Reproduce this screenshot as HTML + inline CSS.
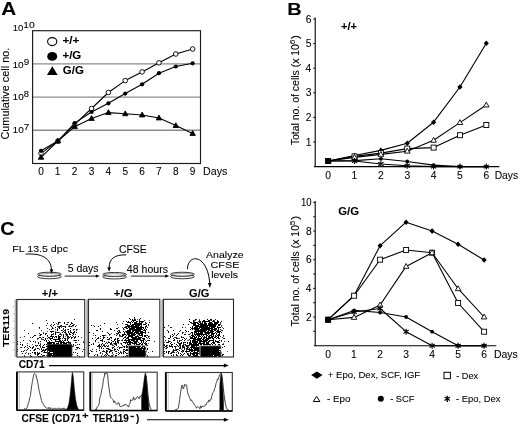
<!DOCTYPE html>
<html><head><meta charset="utf-8"><style>
html,body{margin:0;padding:0;background:#fff;overflow:hidden;}
svg{display:block;filter:blur(0.35px);}
text{font-family:"Liberation Sans",sans-serif;stroke:#000;stroke-width:0.08px;}
</style></head><body>
<svg width="520" height="426" viewBox="0 0 520 426">
<rect width="520" height="426" fill="#fff"/>
<text x="1.28" y="14.60" font-size="19.00" font-weight="bold" textLength="14.99" lengthAdjust="spacingAndGlyphs" xml:space="preserve" fill="#000">A</text>
<line x1="32.60" y1="63.95" x2="200.50" y2="63.95" stroke="#8c8c8c" stroke-width="1.3"/>
<line x1="32.60" y1="97.10" x2="200.50" y2="97.10" stroke="#8c8c8c" stroke-width="1.3"/>
<line x1="32.60" y1="130.25" x2="200.50" y2="130.25" stroke="#8c8c8c" stroke-width="1.3"/>
<rect x="32.6" y="30.7" width="167.9" height="132.8" fill="none" stroke="#1a1a1a" stroke-width="1.15"/>
<text x="12.84" y="30.90" font-size="9.90" textLength="10.56" lengthAdjust="spacingAndGlyphs" xml:space="preserve" fill="#000">10</text>
<text x="23.38" y="27.60" font-size="8.30" textLength="11.46" lengthAdjust="spacingAndGlyphs" xml:space="preserve" fill="#000">10</text>
<text x="12.49" y="68.20" font-size="9.90" textLength="11.24" lengthAdjust="spacingAndGlyphs" xml:space="preserve" fill="#000">10</text>
<text x="23.80" y="64.80" font-size="8.30" textLength="5.56" lengthAdjust="spacingAndGlyphs" xml:space="preserve" fill="#000">9</text>
<text x="12.60" y="100.20" font-size="9.90" textLength="11.12" lengthAdjust="spacingAndGlyphs" xml:space="preserve" fill="#000">10</text>
<text x="23.83" y="97.30" font-size="8.30" textLength="5.21" lengthAdjust="spacingAndGlyphs" xml:space="preserve" fill="#000">8</text>
<text x="12.60" y="133.00" font-size="9.90" textLength="11.12" lengthAdjust="spacingAndGlyphs" xml:space="preserve" fill="#000">10</text>
<text x="23.70" y="129.60" font-size="8.30" textLength="5.56" lengthAdjust="spacingAndGlyphs" xml:space="preserve" fill="#000">7</text>
<text transform="translate(9.40,139.54) rotate(-90)" font-size="10.50" textLength="91.80" lengthAdjust="spacingAndGlyphs" xml:space="preserve" fill="#000">Cumulative cell no.</text>
<text x="38.17" y="174.70" font-size="10.10" textLength="5.62" lengthAdjust="spacingAndGlyphs" xml:space="preserve" fill="#000">0</text>
<text x="54.87" y="174.70" font-size="10.10" textLength="5.62" lengthAdjust="spacingAndGlyphs" xml:space="preserve" fill="#000">1</text>
<text x="71.87" y="174.70" font-size="10.10" textLength="5.62" lengthAdjust="spacingAndGlyphs" xml:space="preserve" fill="#000">2</text>
<text x="88.77" y="174.70" font-size="10.10" textLength="5.62" lengthAdjust="spacingAndGlyphs" xml:space="preserve" fill="#000">3</text>
<text x="105.62" y="174.70" font-size="10.10" textLength="5.62" lengthAdjust="spacingAndGlyphs" xml:space="preserve" fill="#000">4</text>
<text x="122.47" y="174.70" font-size="10.10" textLength="5.62" lengthAdjust="spacingAndGlyphs" xml:space="preserve" fill="#000">5</text>
<text x="139.27" y="174.70" font-size="10.10" textLength="5.62" lengthAdjust="spacingAndGlyphs" xml:space="preserve" fill="#000">6</text>
<text x="156.12" y="174.70" font-size="10.10" textLength="5.62" lengthAdjust="spacingAndGlyphs" xml:space="preserve" fill="#000">7</text>
<text x="173.02" y="174.70" font-size="10.10" textLength="5.62" lengthAdjust="spacingAndGlyphs" xml:space="preserve" fill="#000">8</text>
<text x="189.82" y="174.70" font-size="10.10" textLength="5.62" lengthAdjust="spacingAndGlyphs" xml:space="preserve" fill="#000">9</text>
<text x="203.05" y="174.70" font-size="10.60" textLength="24.26" lengthAdjust="spacingAndGlyphs" xml:space="preserve" fill="#000">Days</text>
<polyline points="41.00,153.40 57.85,141.10 74.70,124.40 91.55,108.50 108.40,92.50 125.25,80.60 142.10,71.90 158.95,62.80 175.80,54.00 192.65,49.00" fill="none" stroke="#000" stroke-width="1.1" stroke-linejoin="round"/>
<polyline points="41.00,150.80 57.85,141.10 74.70,123.10 91.55,112.00 108.40,103.30 125.25,93.60 142.10,84.30 158.95,73.20 175.80,66.50 192.65,63.30" fill="none" stroke="#000" stroke-width="1.1" stroke-linejoin="round"/>
<polyline points="41.00,157.30 57.85,141.10 74.70,126.70 91.55,118.50 108.40,112.60 125.25,113.80 142.10,115.00 158.95,118.00 175.80,125.60 192.65,133.50" fill="none" stroke="#000" stroke-width="1.1" stroke-linejoin="round"/>
<circle cx="41.00" cy="153.4" r="2.3" fill="#fff" stroke="#000" stroke-width="0.9"/>
<circle cx="57.85" cy="141.1" r="2.3" fill="#fff" stroke="#000" stroke-width="0.9"/>
<circle cx="74.70" cy="124.4" r="2.3" fill="#fff" stroke="#000" stroke-width="0.9"/>
<circle cx="91.55" cy="108.5" r="2.3" fill="#fff" stroke="#000" stroke-width="0.9"/>
<circle cx="108.40" cy="92.5" r="2.3" fill="#fff" stroke="#000" stroke-width="0.9"/>
<circle cx="125.25" cy="80.6" r="2.3" fill="#fff" stroke="#000" stroke-width="0.9"/>
<circle cx="142.10" cy="71.9" r="2.3" fill="#fff" stroke="#000" stroke-width="0.9"/>
<circle cx="158.95" cy="62.8" r="2.3" fill="#fff" stroke="#000" stroke-width="0.9"/>
<circle cx="175.80" cy="54.0" r="2.3" fill="#fff" stroke="#000" stroke-width="0.9"/>
<circle cx="192.65" cy="49.0" r="2.3" fill="#fff" stroke="#000" stroke-width="0.9"/>
<circle cx="41.00" cy="150.80" r="2.1" fill="#000"/>
<circle cx="57.85" cy="141.10" r="2.1" fill="#000"/>
<circle cx="74.70" cy="123.10" r="2.1" fill="#000"/>
<circle cx="91.55" cy="112.00" r="2.1" fill="#000"/>
<circle cx="108.40" cy="103.30" r="2.1" fill="#000"/>
<circle cx="125.25" cy="93.60" r="2.1" fill="#000"/>
<circle cx="142.10" cy="84.30" r="2.1" fill="#000"/>
<circle cx="158.95" cy="73.20" r="2.1" fill="#000"/>
<circle cx="175.80" cy="66.50" r="2.1" fill="#000"/>
<circle cx="192.65" cy="63.30" r="2.1" fill="#000"/>
<polygon points="41.00,154.42 38.30,159.22 43.70,159.22" fill="#000" stroke="#000" stroke-width="0.9" stroke-linejoin="miter"/>
<polygon points="57.85,138.22 55.15,143.02 60.55,143.02" fill="#000" stroke="#000" stroke-width="0.9" stroke-linejoin="miter"/>
<polygon points="74.70,123.82 72.00,128.62 77.40,128.62" fill="#000" stroke="#000" stroke-width="0.9" stroke-linejoin="miter"/>
<polygon points="91.55,115.62 88.85,120.42 94.25,120.42" fill="#000" stroke="#000" stroke-width="0.9" stroke-linejoin="miter"/>
<polygon points="108.40,109.72 105.70,114.52 111.10,114.52" fill="#000" stroke="#000" stroke-width="0.9" stroke-linejoin="miter"/>
<polygon points="125.25,110.92 122.55,115.72 127.95,115.72" fill="#000" stroke="#000" stroke-width="0.9" stroke-linejoin="miter"/>
<polygon points="142.10,112.12 139.40,116.92 144.80,116.92" fill="#000" stroke="#000" stroke-width="0.9" stroke-linejoin="miter"/>
<polygon points="158.95,115.12 156.25,119.92 161.65,119.92" fill="#000" stroke="#000" stroke-width="0.9" stroke-linejoin="miter"/>
<polygon points="175.80,122.72 173.10,127.52 178.50,127.52" fill="#000" stroke="#000" stroke-width="0.9" stroke-linejoin="miter"/>
<polygon points="192.65,130.62 189.95,135.42 195.35,135.42" fill="#000" stroke="#000" stroke-width="0.9" stroke-linejoin="miter"/>
<ellipse cx="52.2" cy="41.6" rx="4.6" ry="4.0" fill="#fff" stroke="#000" stroke-width="1.1"/>
<ellipse cx="52.2" cy="56.4" rx="5.0" ry="4.4" fill="#000"/>
<polygon points="52.3,66.2 46.9,75.1 57.7,75.1" fill="#000"/>
<text x="62.53" y="44.20" font-size="11.30" font-weight="bold" textLength="16.89" lengthAdjust="spacingAndGlyphs" xml:space="preserve" fill="#000">+/+</text>
<text x="62.44" y="59.40" font-size="11.30" font-weight="bold" textLength="18.85" lengthAdjust="spacingAndGlyphs" xml:space="preserve" fill="#000">+/G</text>
<text x="62.84" y="74.40" font-size="11.30" font-weight="bold" textLength="20.99" lengthAdjust="spacingAndGlyphs" xml:space="preserve" fill="#000">G/G</text>
<text x="287.30" y="15.40" font-size="17.30" font-weight="bold" textLength="14.44" lengthAdjust="spacingAndGlyphs" xml:space="preserve" fill="#000">B</text>
<line x1="315.20" y1="17.60" x2="315.20" y2="166.60" stroke="#000" stroke-width="1.1"/>
<line x1="313.90" y1="166.60" x2="499.30" y2="166.60" stroke="#000" stroke-width="1.1"/>
<line x1="313.20" y1="142.00" x2="315.20" y2="142.00" stroke="#000" stroke-width="0.9"/>
<text x="305.75" y="145.60" font-size="10.30" textLength="5.73" lengthAdjust="spacingAndGlyphs" xml:space="preserve" fill="#000">1</text>
<line x1="313.20" y1="117.40" x2="315.20" y2="117.40" stroke="#000" stroke-width="0.9"/>
<text x="305.75" y="121.00" font-size="10.30" textLength="5.73" lengthAdjust="spacingAndGlyphs" xml:space="preserve" fill="#000">2</text>
<line x1="313.20" y1="92.80" x2="315.20" y2="92.80" stroke="#000" stroke-width="0.9"/>
<text x="305.75" y="96.40" font-size="10.30" textLength="5.73" lengthAdjust="spacingAndGlyphs" xml:space="preserve" fill="#000">3</text>
<line x1="313.20" y1="68.20" x2="315.20" y2="68.20" stroke="#000" stroke-width="0.9"/>
<text x="305.54" y="71.80" font-size="10.30" textLength="5.73" lengthAdjust="spacingAndGlyphs" xml:space="preserve" fill="#000">4</text>
<line x1="313.20" y1="43.60" x2="315.20" y2="43.60" stroke="#000" stroke-width="0.9"/>
<text x="305.75" y="47.20" font-size="10.30" textLength="5.73" lengthAdjust="spacingAndGlyphs" xml:space="preserve" fill="#000">5</text>
<line x1="313.20" y1="19.00" x2="315.20" y2="19.00" stroke="#000" stroke-width="0.9"/>
<text x="305.75" y="22.60" font-size="10.30" textLength="5.73" lengthAdjust="spacingAndGlyphs" xml:space="preserve" fill="#000">6</text>
<text x="325.32" y="178.70" font-size="10.30" textLength="5.73" lengthAdjust="spacingAndGlyphs" xml:space="preserve" fill="#000">0</text>
<text x="351.51" y="178.70" font-size="10.30" textLength="5.73" lengthAdjust="spacingAndGlyphs" xml:space="preserve" fill="#000">1</text>
<text x="378.02" y="178.70" font-size="10.30" textLength="5.73" lengthAdjust="spacingAndGlyphs" xml:space="preserve" fill="#000">2</text>
<text x="404.42" y="178.70" font-size="10.30" textLength="5.73" lengthAdjust="spacingAndGlyphs" xml:space="preserve" fill="#000">3</text>
<text x="430.77" y="178.70" font-size="10.30" textLength="5.73" lengthAdjust="spacingAndGlyphs" xml:space="preserve" fill="#000">4</text>
<text x="457.12" y="178.70" font-size="10.30" textLength="5.73" lengthAdjust="spacingAndGlyphs" xml:space="preserve" fill="#000">5</text>
<text x="483.42" y="178.70" font-size="10.30" textLength="5.73" lengthAdjust="spacingAndGlyphs" xml:space="preserve" fill="#000">6</text>
<text x="494.67" y="178.70" font-size="10.40" textLength="23.52" lengthAdjust="spacingAndGlyphs" xml:space="preserve" fill="#000">Days</text>
<text x="341.06" y="29.70" font-size="10.80" font-weight="bold" textLength="16.04" lengthAdjust="spacingAndGlyphs" xml:space="preserve" fill="#000">+/+</text>
<polyline points="328.20,161.00 354.55,161.00 380.90,164.00 407.25,165.80 433.60,166.60 459.95,166.60 486.30,166.60" fill="none" stroke="#000" stroke-width="1.1" stroke-linejoin="round"/>
<polyline points="328.20,161.00 354.55,160.60 380.90,158.80 407.25,161.50 433.60,165.10 459.95,166.60 486.30,166.60" fill="none" stroke="#000" stroke-width="1.1" stroke-linejoin="round"/>
<polyline points="328.20,161.00 354.55,157.40 380.90,154.40 407.25,151.20 433.60,140.30 459.95,122.60 486.30,105.00" fill="none" stroke="#000" stroke-width="1.1" stroke-linejoin="round"/>
<polyline points="328.20,161.00 354.55,156.40 380.90,153.10 407.25,148.60 433.60,147.60 459.95,135.20 486.30,125.00" fill="none" stroke="#000" stroke-width="1.1" stroke-linejoin="round"/>
<polyline points="328.20,161.00 354.55,155.50 380.90,150.40 407.25,143.30 433.60,122.20 459.95,87.00 486.30,43.30" fill="none" stroke="#000" stroke-width="1.1" stroke-linejoin="round"/>
<polygon points="328.20,158.20 330.80,161.00 328.20,163.80 325.60,161.00" fill="#000"/>
<rect x="325.70" y="158.50" width="5.0" height="5.0" fill="#fff" stroke="#000" stroke-width="0.9"/>
<polygon points="328.20,158.09 325.40,162.94 331.00,162.94" fill="#fff" stroke="#000" stroke-width="0.9" stroke-linejoin="miter"/>
<circle cx="328.20" cy="161.00" r="1.9" fill="#000"/>
<path d="M328.20,158.00L328.20,164.00M325.58,159.28L330.82,162.72M325.58,162.72L330.82,159.28" stroke="#000" stroke-width="1.1"/>
<polygon points="354.55,152.70 357.15,155.50 354.55,158.30 351.95,155.50" fill="#000"/>
<rect x="352.05" y="153.90" width="5.0" height="5.0" fill="#fff" stroke="#000" stroke-width="0.9"/>
<polygon points="354.55,154.49 351.75,159.34 357.35,159.34" fill="#fff" stroke="#000" stroke-width="0.9" stroke-linejoin="miter"/>
<circle cx="354.55" cy="160.60" r="1.9" fill="#000"/>
<path d="M354.55,158.00L354.55,164.00M351.93,159.28L357.17,162.72M351.93,162.72L357.17,159.28" stroke="#000" stroke-width="1.1"/>
<polygon points="380.90,147.60 383.50,150.40 380.90,153.20 378.30,150.40" fill="#000"/>
<rect x="378.40" y="150.60" width="5.0" height="5.0" fill="#fff" stroke="#000" stroke-width="0.9"/>
<polygon points="380.90,151.49 378.10,156.34 383.70,156.34" fill="#fff" stroke="#000" stroke-width="0.9" stroke-linejoin="miter"/>
<circle cx="380.90" cy="158.80" r="1.9" fill="#000"/>
<path d="M380.90,161.00L380.90,167.00M378.28,162.28L383.52,165.72M378.28,165.72L383.52,162.28" stroke="#000" stroke-width="1.1"/>
<polygon points="407.25,140.50 409.85,143.30 407.25,146.10 404.65,143.30" fill="#000"/>
<rect x="404.75" y="146.10" width="5.0" height="5.0" fill="#fff" stroke="#000" stroke-width="0.9"/>
<polygon points="407.25,148.29 404.45,153.14 410.05,153.14" fill="#fff" stroke="#000" stroke-width="0.9" stroke-linejoin="miter"/>
<circle cx="407.25" cy="161.50" r="1.9" fill="#000"/>
<path d="M407.25,162.80L407.25,168.80M404.63,164.08L409.87,167.52M404.63,167.52L409.87,164.08" stroke="#000" stroke-width="1.1"/>
<polygon points="433.60,119.40 436.20,122.20 433.60,125.00 431.00,122.20" fill="#000"/>
<rect x="431.10" y="145.10" width="5.0" height="5.0" fill="#fff" stroke="#000" stroke-width="0.9"/>
<polygon points="433.60,137.39 430.80,142.24 436.40,142.24" fill="#fff" stroke="#000" stroke-width="0.9" stroke-linejoin="miter"/>
<circle cx="433.60" cy="165.10" r="1.9" fill="#000"/>
<path d="M433.60,163.60L433.60,169.60M430.98,164.88L436.22,168.32M430.98,168.32L436.22,164.88" stroke="#000" stroke-width="1.1"/>
<polygon points="459.95,84.20 462.55,87.00 459.95,89.80 457.35,87.00" fill="#000"/>
<rect x="457.45" y="132.70" width="5.0" height="5.0" fill="#fff" stroke="#000" stroke-width="0.9"/>
<polygon points="459.95,119.69 457.15,124.54 462.75,124.54" fill="#fff" stroke="#000" stroke-width="0.9" stroke-linejoin="miter"/>
<circle cx="459.95" cy="166.60" r="1.9" fill="#000"/>
<path d="M459.95,163.60L459.95,169.60M457.33,164.88L462.57,168.32M457.33,168.32L462.57,164.88" stroke="#000" stroke-width="1.1"/>
<polygon points="486.30,40.50 488.90,43.30 486.30,46.10 483.70,43.30" fill="#000"/>
<rect x="483.80" y="122.50" width="5.0" height="5.0" fill="#fff" stroke="#000" stroke-width="0.9"/>
<polygon points="486.30,102.09 483.50,106.94 489.10,106.94" fill="#fff" stroke="#000" stroke-width="0.9" stroke-linejoin="miter"/>
<circle cx="486.30" cy="166.60" r="1.9" fill="#000"/>
<path d="M486.30,163.60L486.30,169.60M483.68,164.88L488.92,168.32M483.68,168.32L488.92,164.88" stroke="#000" stroke-width="1.1"/>
<rect x="325.40" y="158.20" width="5.6" height="5.6" fill="#000"/>
<line x1="315.20" y1="201.00" x2="315.20" y2="345.70" stroke="#000" stroke-width="1.1"/>
<line x1="313.90" y1="345.70" x2="496.30" y2="345.70" stroke="#000" stroke-width="1.1"/>
<line x1="313.20" y1="331.37" x2="315.20" y2="331.37" stroke="#000" stroke-width="0.9"/>
<line x1="313.20" y1="317.04" x2="315.20" y2="317.04" stroke="#000" stroke-width="0.9"/>
<line x1="313.20" y1="302.71" x2="315.20" y2="302.71" stroke="#000" stroke-width="0.9"/>
<line x1="313.20" y1="288.38" x2="315.20" y2="288.38" stroke="#000" stroke-width="0.9"/>
<line x1="313.20" y1="274.05" x2="315.20" y2="274.05" stroke="#000" stroke-width="0.9"/>
<line x1="313.20" y1="259.72" x2="315.20" y2="259.72" stroke="#000" stroke-width="0.9"/>
<line x1="313.20" y1="245.39" x2="315.20" y2="245.39" stroke="#000" stroke-width="0.9"/>
<line x1="313.20" y1="231.06" x2="315.20" y2="231.06" stroke="#000" stroke-width="0.9"/>
<line x1="313.20" y1="216.73" x2="315.20" y2="216.73" stroke="#000" stroke-width="0.9"/>
<line x1="313.20" y1="202.40" x2="315.20" y2="202.40" stroke="#000" stroke-width="0.9"/>
<text x="300.93" y="205.50" font-size="10.30" textLength="10.67" lengthAdjust="spacingAndGlyphs" xml:space="preserve" fill="#000">10</text>
<text x="305.95" y="320.64" font-size="10.30" textLength="5.73" lengthAdjust="spacingAndGlyphs" xml:space="preserve" fill="#000">2</text>
<text x="305.74" y="291.98" font-size="10.30" textLength="5.73" lengthAdjust="spacingAndGlyphs" xml:space="preserve" fill="#000">4</text>
<text x="305.95" y="263.32" font-size="10.30" textLength="5.73" lengthAdjust="spacingAndGlyphs" xml:space="preserve" fill="#000">6</text>
<text x="305.95" y="234.66" font-size="10.30" textLength="5.73" lengthAdjust="spacingAndGlyphs" xml:space="preserve" fill="#000">8</text>
<text x="325.22" y="357.80" font-size="10.30" textLength="5.73" lengthAdjust="spacingAndGlyphs" xml:space="preserve" fill="#000">0</text>
<text x="351.06" y="357.80" font-size="10.30" textLength="5.73" lengthAdjust="spacingAndGlyphs" xml:space="preserve" fill="#000">1</text>
<text x="377.22" y="357.80" font-size="10.30" textLength="5.73" lengthAdjust="spacingAndGlyphs" xml:space="preserve" fill="#000">2</text>
<text x="403.27" y="357.80" font-size="10.30" textLength="5.73" lengthAdjust="spacingAndGlyphs" xml:space="preserve" fill="#000">3</text>
<text x="429.27" y="357.80" font-size="10.30" textLength="5.73" lengthAdjust="spacingAndGlyphs" xml:space="preserve" fill="#000">4</text>
<text x="455.27" y="357.80" font-size="10.30" textLength="5.73" lengthAdjust="spacingAndGlyphs" xml:space="preserve" fill="#000">5</text>
<text x="481.22" y="357.80" font-size="10.30" textLength="5.73" lengthAdjust="spacingAndGlyphs" xml:space="preserve" fill="#000">6</text>
<text x="494.07" y="357.80" font-size="10.40" textLength="23.73" lengthAdjust="spacingAndGlyphs" xml:space="preserve" fill="#000">Days</text>
<text x="338.25" y="215.00" font-size="10.80" font-weight="bold" textLength="20.77" lengthAdjust="spacingAndGlyphs" xml:space="preserve" fill="#000">G/G</text>
<polyline points="328.10,319.70 354.10,312.00 380.10,308.50 406.10,331.70 432.10,345.70 458.10,345.70 484.10,345.70" fill="none" stroke="#000" stroke-width="1.1" stroke-linejoin="round"/>
<polyline points="328.10,319.70 354.10,310.40 380.10,312.50 406.10,317.00 432.10,331.70 458.10,345.70 484.10,345.70" fill="none" stroke="#000" stroke-width="1.1" stroke-linejoin="round"/>
<polyline points="328.10,319.70 354.10,317.40 380.10,305.00 406.10,266.40 432.10,252.70 458.10,288.70 484.10,317.00" fill="none" stroke="#000" stroke-width="1.1" stroke-linejoin="round"/>
<polyline points="328.10,319.70 354.10,295.70 380.10,259.70 406.10,250.00 432.10,252.70 458.10,303.00 484.10,331.70" fill="none" stroke="#000" stroke-width="1.1" stroke-linejoin="round"/>
<polyline points="328.10,319.70 354.10,295.50 380.10,245.70 406.10,222.20 432.10,231.10 458.10,244.30 484.10,260.00" fill="none" stroke="#000" stroke-width="1.1" stroke-linejoin="round"/>
<polygon points="328.10,316.90 330.70,319.70 328.10,322.50 325.50,319.70" fill="#000"/>
<rect x="325.60" y="317.20" width="5.0" height="5.0" fill="#fff" stroke="#000" stroke-width="0.9"/>
<polygon points="328.10,316.79 325.30,321.64 330.90,321.64" fill="#fff" stroke="#000" stroke-width="0.9" stroke-linejoin="miter"/>
<circle cx="328.10" cy="319.70" r="1.9" fill="#000"/>
<path d="M328.10,316.70L328.10,322.70M325.48,317.98L330.72,321.42M325.48,321.42L330.72,317.98" stroke="#000" stroke-width="1.1"/>
<polygon points="354.10,292.70 356.70,295.50 354.10,298.30 351.50,295.50" fill="#000"/>
<rect x="351.60" y="293.20" width="5.0" height="5.0" fill="#fff" stroke="#000" stroke-width="0.9"/>
<polygon points="354.10,314.49 351.30,319.34 356.90,319.34" fill="#fff" stroke="#000" stroke-width="0.9" stroke-linejoin="miter"/>
<circle cx="354.10" cy="310.40" r="1.9" fill="#000"/>
<path d="M354.10,309.00L354.10,315.00M351.48,310.28L356.72,313.72M351.48,313.72L356.72,310.28" stroke="#000" stroke-width="1.1"/>
<polygon points="380.10,242.90 382.70,245.70 380.10,248.50 377.50,245.70" fill="#000"/>
<rect x="377.60" y="257.20" width="5.0" height="5.0" fill="#fff" stroke="#000" stroke-width="0.9"/>
<polygon points="380.10,302.09 377.30,306.94 382.90,306.94" fill="#fff" stroke="#000" stroke-width="0.9" stroke-linejoin="miter"/>
<circle cx="380.10" cy="312.50" r="1.9" fill="#000"/>
<path d="M380.10,305.50L380.10,311.50M377.48,306.78L382.72,310.22M377.48,310.22L382.72,306.78" stroke="#000" stroke-width="1.1"/>
<polygon points="406.10,219.40 408.70,222.20 406.10,225.00 403.50,222.20" fill="#000"/>
<rect x="403.60" y="247.50" width="5.0" height="5.0" fill="#fff" stroke="#000" stroke-width="0.9"/>
<polygon points="406.10,263.49 403.30,268.34 408.90,268.34" fill="#fff" stroke="#000" stroke-width="0.9" stroke-linejoin="miter"/>
<circle cx="406.10" cy="317.00" r="1.9" fill="#000"/>
<path d="M406.10,328.70L406.10,334.70M403.48,329.98L408.72,333.42M403.48,333.42L408.72,329.98" stroke="#000" stroke-width="1.1"/>
<polygon points="432.10,228.30 434.70,231.10 432.10,233.90 429.50,231.10" fill="#000"/>
<rect x="429.60" y="250.20" width="5.0" height="5.0" fill="#fff" stroke="#000" stroke-width="0.9"/>
<polygon points="432.10,249.79 429.30,254.64 434.90,254.64" fill="#fff" stroke="#000" stroke-width="0.9" stroke-linejoin="miter"/>
<circle cx="432.10" cy="331.70" r="1.9" fill="#000"/>
<path d="M432.10,342.70L432.10,348.70M429.48,343.98L434.72,347.42M429.48,347.42L434.72,343.98" stroke="#000" stroke-width="1.1"/>
<polygon points="458.10,241.50 460.70,244.30 458.10,247.10 455.50,244.30" fill="#000"/>
<rect x="455.60" y="300.50" width="5.0" height="5.0" fill="#fff" stroke="#000" stroke-width="0.9"/>
<polygon points="458.10,285.79 455.30,290.64 460.90,290.64" fill="#fff" stroke="#000" stroke-width="0.9" stroke-linejoin="miter"/>
<circle cx="458.10" cy="345.70" r="1.9" fill="#000"/>
<path d="M458.10,342.70L458.10,348.70M455.48,343.98L460.72,347.42M455.48,347.42L460.72,343.98" stroke="#000" stroke-width="1.1"/>
<polygon points="484.10,257.20 486.70,260.00 484.10,262.80 481.50,260.00" fill="#000"/>
<rect x="481.60" y="329.20" width="5.0" height="5.0" fill="#fff" stroke="#000" stroke-width="0.9"/>
<polygon points="484.10,314.09 481.30,318.94 486.90,318.94" fill="#fff" stroke="#000" stroke-width="0.9" stroke-linejoin="miter"/>
<circle cx="484.10" cy="345.70" r="1.9" fill="#000"/>
<path d="M484.10,342.70L484.10,348.70M481.48,343.98L486.72,347.42M481.48,347.42L486.72,343.98" stroke="#000" stroke-width="1.1"/>
<rect x="325.30" y="316.90" width="5.6" height="5.6" fill="#000"/>
<polygon points="316.90,371.50 322.60,375.10 316.90,378.70 311.20,375.10" fill="#000"/>
<text x="327.72" y="378.30" font-size="9.90" textLength="92.48" lengthAdjust="spacingAndGlyphs" xml:space="preserve" fill="#000">+ Epo, Dex, SCF, IGF</text>
<rect x="444.00" y="372.30" width="6.4" height="6.4" fill="#fff" stroke="#000" stroke-width="1.0"/>
<text x="456.13" y="378.70" font-size="9.90" textLength="22.05" lengthAdjust="spacingAndGlyphs" xml:space="preserve" fill="#000">- Dex</text>
<polygon points="316.6,396.4 313.3,401.5 319.9,401.5" fill="#fff" stroke="#000" stroke-width="1"/>
<text x="327.01" y="401.50" font-size="9.90" textLength="23.49" lengthAdjust="spacingAndGlyphs" xml:space="preserve" fill="#000">- Epo</text>
<circle cx="380.80" cy="398.70" r="3.0" fill="#000"/>
<text x="390.13" y="401.50" font-size="9.90" textLength="24.46" lengthAdjust="spacingAndGlyphs" xml:space="preserve" fill="#000">- SCF</text>
<path d="M447.30,395.70L447.30,401.90M444.60,397.02L450.00,400.58M444.60,400.58L450.00,397.02" stroke="#000" stroke-width="1.3"/>
<text x="456.12" y="401.80" font-size="9.90" textLength="44.31" lengthAdjust="spacingAndGlyphs" xml:space="preserve" fill="#000">- Epo, Dex</text>
<text x="0.21" y="235.20" font-size="17.80" font-weight="bold" textLength="14.22" lengthAdjust="spacingAndGlyphs" xml:space="preserve" fill="#000">C</text>
<text x="12.35" y="251.50" font-size="9.70" textLength="55.61" lengthAdjust="spacingAndGlyphs" xml:space="preserve" fill="#000">FL 13.5 dpc</text>
<text x="67.68" y="272.00" font-size="10.00" textLength="30.80" lengthAdjust="spacingAndGlyphs" xml:space="preserve" fill="#000">5 days</text>
<text x="118.98" y="253.20" font-size="10.00" textLength="27.81" lengthAdjust="spacingAndGlyphs" xml:space="preserve" fill="#000">CFSE</text>
<text x="126.89" y="272.70" font-size="10.00" textLength="41.05" lengthAdjust="spacingAndGlyphs" xml:space="preserve" fill="#000">48 hours</text>
<text x="206.10" y="258.30" font-size="9.80" textLength="37.40" lengthAdjust="spacingAndGlyphs" xml:space="preserve" fill="#000">Analyze</text>
<text x="210.46" y="267.80" font-size="9.80" textLength="28.95" lengthAdjust="spacingAndGlyphs" xml:space="preserve" fill="#000">CFSE</text>
<text x="211.17" y="277.70" font-size="9.80" textLength="26.82" lengthAdjust="spacingAndGlyphs" xml:space="preserve" fill="#000">levels</text>
<ellipse cx="49.4" cy="276.7" rx="11.9" ry="2.05" fill="#fff" stroke="#111" stroke-width="0.85"/>
<ellipse cx="49.4" cy="274.3" rx="11.9" ry="2.05" fill="#fff" stroke="#111" stroke-width="0.85"/>
<ellipse cx="49.4" cy="274.8" rx="10.6" ry="1.2499999999999998" fill="none" stroke="#555" stroke-width="0.6"/>
<ellipse cx="114.6" cy="276.9" rx="11.9" ry="2.05" fill="#fff" stroke="#111" stroke-width="0.85"/>
<ellipse cx="114.6" cy="274.5" rx="11.9" ry="2.05" fill="#fff" stroke="#111" stroke-width="0.85"/>
<ellipse cx="114.6" cy="275.0" rx="10.6" ry="1.2499999999999998" fill="none" stroke="#555" stroke-width="0.6"/>
<ellipse cx="182.4" cy="276.7" rx="11.9" ry="2.05" fill="#fff" stroke="#111" stroke-width="0.85"/>
<ellipse cx="182.4" cy="274.3" rx="11.9" ry="2.05" fill="#fff" stroke="#111" stroke-width="0.85"/>
<ellipse cx="182.4" cy="274.8" rx="10.6" ry="1.2499999999999998" fill="none" stroke="#555" stroke-width="0.6"/>
<line x1="64.70" y1="276.10" x2="96.50" y2="276.10" stroke="#000" stroke-width="0.9"/>
<polygon points="99.80,276.10 95.80,277.70 95.80,274.50" fill="#000"/>
<line x1="130.90" y1="276.10" x2="166.00" y2="276.10" stroke="#000" stroke-width="0.9"/>
<polygon points="169.30,276.10 165.30,277.70 165.30,274.50" fill="#000"/>
<path d="M25.6,254.1 C41,253 51,258 51.4,269.5" fill="none" stroke="#000" stroke-width="1"/>
<polygon points="51.50,273.80 49.70,269.20 53.30,269.20" fill="#000"/>
<path d="M126.2,254.8 C114,254.6 109.3,259 109.1,267.5" fill="none" stroke="#000" stroke-width="1"/>
<polygon points="109.10,271.80 107.30,267.20 110.90,267.20" fill="#000"/>
<path d="M187.4,269.2 C188,253 207.5,254 209.8,283.5" fill="none" stroke="#000" stroke-width="1"/>
<polygon points="209.90,288.00 207.93,283.07 211.52,282.94" fill="#000"/>
<defs><linearGradient id="gband" x1="0" x2="1" y1="0" y2="0"><stop offset="0" stop-color="#d8d8d8"/><stop offset="1" stop-color="#808080"/></linearGradient></defs>
<rect x="14.299999999999999" y="299.5" width="2.6" height="57.5" fill="url(#gband)"/>
<path d="M46 320h1v1h-1zM53 322h1v1h-1zM58 322h1v1h-1zM59 322h1v1h-1zM64 322h1v1h-1zM68 322h1v1h-1zM32 323h1v1h-1zM47 323h1v1h-1zM58 323h1v1h-1zM64 323h1v1h-1zM71 323h1v1h-1zM54 324h1v1h-1zM67 324h1v1h-1zM70 324h1v1h-1zM50 325h1v1h-1zM53 325h1v1h-1zM61 325h1v1h-1zM72 325h1v1h-1zM73 325h1v1h-1zM51 326h1v1h-1zM59 326h1v1h-1zM60 326h1v1h-1zM63 326h1v1h-1zM65 326h1v1h-1zM69 326h1v1h-1zM71 326h1v1h-1zM75 326h1v1h-1zM39 327h1v1h-1zM52 327h1v1h-1zM55 327h1v1h-1zM59 327h1v1h-1zM65 327h1v1h-1zM52 328h1v1h-1zM59 328h1v1h-1zM70 328h1v1h-1zM57 329h1v1h-1zM68 329h1v1h-1zM76 329h1v1h-1zM57 330h1v1h-1zM61 330h1v1h-1zM70 330h1v1h-1zM50 331h1v1h-1zM51 331h1v1h-1zM52 331h1v1h-1zM53 331h1v1h-1zM63 331h1v1h-1zM65 331h1v1h-1zM68 331h1v1h-1zM74 331h1v1h-1zM57 332h1v1h-1zM62 332h1v1h-1zM64 332h1v1h-1zM65 332h1v1h-1zM68 332h1v1h-1zM71 332h1v1h-1zM73 332h1v1h-1zM74 332h1v1h-1zM76 332h1v1h-1zM28 333h1v1h-1zM39 333h1v1h-1zM43 333h1v1h-1zM46 333h1v1h-1zM55 333h1v1h-1zM69 333h1v1h-1zM72 333h1v1h-1zM41 334h1v1h-1zM45 334h1v1h-1zM51 334h1v1h-1zM52 334h1v1h-1zM55 334h1v1h-1zM63 334h1v1h-1zM66 334h1v1h-1zM69 334h1v1h-1zM70 334h1v1h-1zM73 334h1v1h-1zM34 335h1v1h-1zM35 335h1v1h-1zM40 335h1v1h-1zM47 335h1v1h-1zM51 335h1v1h-1zM58 335h1v1h-1zM63 335h1v1h-1zM50 336h1v1h-1zM51 336h1v1h-1zM52 336h1v1h-1zM53 336h1v1h-1zM55 336h1v1h-1zM56 336h1v1h-1zM58 336h1v1h-1zM59 336h1v1h-1zM60 336h1v1h-1zM63 336h1v1h-1zM68 336h1v1h-1zM75 336h1v1h-1zM78 336h1v1h-1zM32 337h1v1h-1zM39 337h1v1h-1zM40 337h1v1h-1zM43 337h1v1h-1zM48 337h1v1h-1zM52 337h1v1h-1zM54 337h1v1h-1zM56 337h1v1h-1zM58 337h1v1h-1zM59 337h1v1h-1zM63 337h1v1h-1zM71 337h1v1h-1zM74 337h1v1h-1zM45 338h1v1h-1zM50 338h1v1h-1zM51 338h1v1h-1zM52 338h1v1h-1zM58 338h1v1h-1zM59 338h1v1h-1zM60 338h1v1h-1zM62 338h1v1h-1zM64 338h1v1h-1zM65 338h1v1h-1zM68 338h1v1h-1zM71 338h1v1h-1zM45 339h1v1h-1zM50 339h1v1h-1zM53 339h1v1h-1zM54 339h1v1h-1zM55 339h1v1h-1zM56 339h1v1h-1zM57 339h1v1h-1zM58 339h1v1h-1zM59 339h1v1h-1zM65 339h1v1h-1zM67 339h1v1h-1zM23 340h1v1h-1zM44 340h1v1h-1zM46 340h1v1h-1zM51 340h1v1h-1zM55 340h1v1h-1zM59 340h1v1h-1zM60 340h1v1h-1zM62 340h1v1h-1zM64 340h1v1h-1zM65 340h1v1h-1zM67 340h1v1h-1zM75 340h1v1h-1zM76 340h1v1h-1zM78 340h1v1h-1zM17 341h1v1h-1zM30 341h1v1h-1zM33 341h1v1h-1zM40 341h1v1h-1zM46 341h1v1h-1zM49 341h1v1h-1zM55 341h1v1h-1zM56 341h1v1h-1zM57 341h1v1h-1zM58 341h1v1h-1zM59 341h1v1h-1zM60 341h1v1h-1zM61 341h1v1h-1zM63 341h1v1h-1zM68 341h1v1h-1zM48 342h1v1h-1zM49 342h1v1h-1zM50 342h1v1h-1zM51 342h1v1h-1zM52 342h1v1h-1zM53 342h1v1h-1zM54 342h1v1h-1zM58 342h1v1h-1zM60 342h1v1h-1zM61 342h1v1h-1zM62 342h1v1h-1zM63 342h1v1h-1zM64 342h1v1h-1zM66 342h1v1h-1zM67 342h1v1h-1zM68 342h1v1h-1zM69 342h1v1h-1zM75 342h1v1h-1zM38 343h1v1h-1zM47 343h1v1h-1zM48 343h1v1h-1zM49 343h1v1h-1zM50 343h1v1h-1zM51 343h1v1h-1zM53 343h1v1h-1zM54 343h1v1h-1zM56 343h1v1h-1zM57 343h1v1h-1zM58 343h1v1h-1zM60 343h1v1h-1zM61 343h1v1h-1zM63 343h1v1h-1zM64 343h1v1h-1zM65 343h1v1h-1zM66 343h1v1h-1zM70 343h1v1h-1zM20 344h1v1h-1zM22 344h1v1h-1zM44 344h1v1h-1zM46 344h1v1h-1zM48 344h1v1h-1zM49 344h1v1h-1zM50 344h1v1h-1zM52 344h1v1h-1zM53 344h1v1h-1zM54 344h1v1h-1zM55 344h1v1h-1zM56 344h1v1h-1zM58 344h1v1h-1zM59 344h1v1h-1zM60 344h1v1h-1zM62 344h1v1h-1zM63 344h1v1h-1zM66 344h1v1h-1zM67 344h1v1h-1zM73 344h1v1h-1zM79 344h1v1h-1zM27 345h1v1h-1zM35 345h1v1h-1zM37 345h1v1h-1zM39 345h1v1h-1zM43 345h1v1h-1zM47 345h1v1h-1zM48 345h1v1h-1zM49 345h1v1h-1zM50 345h1v1h-1zM51 345h1v1h-1zM52 345h1v1h-1zM53 345h1v1h-1zM54 345h1v1h-1zM55 345h1v1h-1zM56 345h1v1h-1zM57 345h1v1h-1zM58 345h1v1h-1zM59 345h1v1h-1zM60 345h1v1h-1zM61 345h1v1h-1zM62 345h1v1h-1zM63 345h1v1h-1zM64 345h1v1h-1zM65 345h1v1h-1zM66 345h1v1h-1zM67 345h1v1h-1zM68 345h1v1h-1zM69 345h1v1h-1zM70 345h1v1h-1zM71 345h1v1h-1zM29 346h1v1h-1zM33 346h1v1h-1zM46 346h1v1h-1zM47 346h1v1h-1zM48 346h1v1h-1zM49 346h1v1h-1zM50 346h1v1h-1zM51 346h1v1h-1zM52 346h1v1h-1zM53 346h1v1h-1zM54 346h1v1h-1zM55 346h1v1h-1zM56 346h1v1h-1zM57 346h1v1h-1zM58 346h1v1h-1zM59 346h1v1h-1zM60 346h1v1h-1zM61 346h1v1h-1zM62 346h1v1h-1zM63 346h1v1h-1zM64 346h1v1h-1zM65 346h1v1h-1zM66 346h1v1h-1zM67 346h1v1h-1zM68 346h1v1h-1zM69 346h1v1h-1zM70 346h1v1h-1zM71 346h1v1h-1zM72 346h1v1h-1zM21 347h1v1h-1zM24 347h1v1h-1zM30 347h1v1h-1zM32 347h1v1h-1zM42 347h1v1h-1zM43 347h1v1h-1zM44 347h1v1h-1zM47 347h1v1h-1zM48 347h1v1h-1zM49 347h1v1h-1zM50 347h1v1h-1zM51 347h1v1h-1zM52 347h1v1h-1zM53 347h1v1h-1zM54 347h1v1h-1zM55 347h1v1h-1zM56 347h1v1h-1zM57 347h1v1h-1zM58 347h1v1h-1zM59 347h1v1h-1zM60 347h1v1h-1zM61 347h1v1h-1zM62 347h1v1h-1zM63 347h1v1h-1zM64 347h1v1h-1zM65 347h1v1h-1zM66 347h1v1h-1zM67 347h1v1h-1zM68 347h1v1h-1zM69 347h1v1h-1zM70 347h1v1h-1zM71 347h1v1h-1zM76 347h1v1h-1zM77 347h1v1h-1zM32 348h1v1h-1zM37 348h1v1h-1zM47 348h1v1h-1zM48 348h1v1h-1zM49 348h1v1h-1zM50 348h1v1h-1zM51 348h1v1h-1zM52 348h1v1h-1zM53 348h1v1h-1zM54 348h1v1h-1zM55 348h1v1h-1zM56 348h1v1h-1zM57 348h1v1h-1zM58 348h1v1h-1zM59 348h1v1h-1zM60 348h1v1h-1zM61 348h1v1h-1zM62 348h1v1h-1zM63 348h1v1h-1zM64 348h1v1h-1zM65 348h1v1h-1zM66 348h1v1h-1zM67 348h1v1h-1zM68 348h1v1h-1zM69 348h1v1h-1zM70 348h1v1h-1zM71 348h1v1h-1zM77 348h1v1h-1zM79 348h1v1h-1zM17 349h1v1h-1zM27 349h1v1h-1zM35 349h1v1h-1zM41 349h1v1h-1zM43 349h1v1h-1zM45 349h1v1h-1zM46 349h1v1h-1zM47 349h1v1h-1zM48 349h1v1h-1zM49 349h1v1h-1zM50 349h1v1h-1zM51 349h1v1h-1zM52 349h1v1h-1zM53 349h1v1h-1zM54 349h1v1h-1zM55 349h1v1h-1zM56 349h1v1h-1zM57 349h1v1h-1zM58 349h1v1h-1zM59 349h1v1h-1zM60 349h1v1h-1zM61 349h1v1h-1zM62 349h1v1h-1zM63 349h1v1h-1zM64 349h1v1h-1zM65 349h1v1h-1zM66 349h1v1h-1zM67 349h1v1h-1zM68 349h1v1h-1zM69 349h1v1h-1zM70 349h1v1h-1zM71 349h1v1h-1zM26 350h1v1h-1zM30 350h1v1h-1zM34 350h1v1h-1zM42 350h1v1h-1zM43 350h1v1h-1zM45 350h1v1h-1zM47 350h1v1h-1zM48 350h1v1h-1zM49 350h1v1h-1zM50 350h1v1h-1zM51 350h1v1h-1zM52 350h1v1h-1zM53 350h1v1h-1zM54 350h1v1h-1zM55 350h1v1h-1zM56 350h1v1h-1zM57 350h1v1h-1zM58 350h1v1h-1zM59 350h1v1h-1zM60 350h1v1h-1zM61 350h1v1h-1zM62 350h1v1h-1zM63 350h1v1h-1zM64 350h1v1h-1zM65 350h1v1h-1zM66 350h1v1h-1zM67 350h1v1h-1zM68 350h1v1h-1zM69 350h1v1h-1zM70 350h1v1h-1zM71 350h1v1h-1zM21 351h1v1h-1zM23 351h1v1h-1zM41 351h1v1h-1zM47 351h1v1h-1zM49 351h1v1h-1zM50 351h1v1h-1zM51 351h1v1h-1zM52 351h1v1h-1zM53 351h1v1h-1zM54 351h1v1h-1zM55 351h1v1h-1zM56 351h1v1h-1zM57 351h1v1h-1zM58 351h1v1h-1zM59 351h1v1h-1zM60 351h1v1h-1zM61 351h1v1h-1zM62 351h1v1h-1zM63 351h1v1h-1zM64 351h1v1h-1zM65 351h1v1h-1zM66 351h1v1h-1zM67 351h1v1h-1zM68 351h1v1h-1zM69 351h1v1h-1zM70 351h1v1h-1zM71 351h1v1h-1zM32 352h1v1h-1zM34 352h1v1h-1zM35 352h1v1h-1zM44 352h1v1h-1zM45 352h1v1h-1zM46 352h1v1h-1zM48 352h1v1h-1zM49 352h1v1h-1zM53 352h1v1h-1zM54 352h1v1h-1zM55 352h1v1h-1zM56 352h1v1h-1zM57 352h1v1h-1zM58 352h1v1h-1zM59 352h1v1h-1zM60 352h1v1h-1zM61 352h1v1h-1zM62 352h1v1h-1zM63 352h1v1h-1zM64 352h1v1h-1zM65 352h1v1h-1zM66 352h1v1h-1zM67 352h1v1h-1zM68 352h1v1h-1zM69 352h1v1h-1zM70 352h1v1h-1zM71 352h1v1h-1zM22 353h1v1h-1zM28 353h1v1h-1zM37 353h1v1h-1zM38 353h1v1h-1zM39 353h1v1h-1zM47 353h1v1h-1zM48 353h1v1h-1zM49 353h1v1h-1zM50 353h1v1h-1zM51 353h1v1h-1zM52 353h1v1h-1zM53 353h1v1h-1zM54 353h1v1h-1zM55 353h1v1h-1zM56 353h1v1h-1zM57 353h1v1h-1zM58 353h1v1h-1zM59 353h1v1h-1zM60 353h1v1h-1zM61 353h1v1h-1zM62 353h1v1h-1zM63 353h1v1h-1zM64 353h1v1h-1zM65 353h1v1h-1zM66 353h1v1h-1zM67 353h1v1h-1zM68 353h1v1h-1zM69 353h1v1h-1zM70 353h1v1h-1zM71 353h1v1h-1zM77 353h1v1h-1zM37 354h1v1h-1zM38 354h1v1h-1zM41 354h1v1h-1zM47 354h1v1h-1zM48 354h1v1h-1zM49 354h1v1h-1zM50 354h1v1h-1zM51 354h1v1h-1zM53 354h1v1h-1zM54 354h1v1h-1zM55 354h1v1h-1zM56 354h1v1h-1zM57 354h1v1h-1zM58 354h1v1h-1zM59 354h1v1h-1zM60 354h1v1h-1zM61 354h1v1h-1zM62 354h1v1h-1zM63 354h1v1h-1zM64 354h1v1h-1zM65 354h1v1h-1zM66 354h1v1h-1zM67 354h1v1h-1zM68 354h1v1h-1zM69 354h1v1h-1zM70 354h1v1h-1zM71 354h1v1h-1zM37 355h1v1h-1zM43 355h1v1h-1zM47 355h1v1h-1zM48 355h1v1h-1zM49 355h1v1h-1zM50 355h1v1h-1zM51 355h1v1h-1zM52 355h1v1h-1zM53 355h1v1h-1zM54 355h1v1h-1zM55 355h1v1h-1zM56 355h1v1h-1zM57 355h1v1h-1zM58 355h1v1h-1zM59 355h1v1h-1zM60 355h1v1h-1zM61 355h1v1h-1zM62 355h1v1h-1zM63 355h1v1h-1zM64 355h1v1h-1zM65 355h1v1h-1zM66 355h1v1h-1zM67 355h1v1h-1zM68 355h1v1h-1zM69 355h1v1h-1zM70 355h1v1h-1zM71 355h1v1h-1zM77 355h1v1h-1zM30 356h1v1h-1zM31 356h1v1h-1zM38 356h1v1h-1zM40 356h1v1h-1zM42 356h1v1h-1zM47 356h1v1h-1zM48 356h1v1h-1zM49 356h1v1h-1zM50 356h1v1h-1zM52 356h1v1h-1zM53 356h1v1h-1zM54 356h1v1h-1zM55 356h1v1h-1zM56 356h1v1h-1zM57 356h1v1h-1zM58 356h1v1h-1zM59 356h1v1h-1zM60 356h1v1h-1zM61 356h1v1h-1zM62 356h1v1h-1zM63 356h1v1h-1zM64 356h1v1h-1zM65 356h1v1h-1zM66 356h1v1h-1zM67 356h1v1h-1zM68 356h1v1h-1zM69 356h1v1h-1zM70 356h1v1h-1zM71 356h1v1h-1zM79 356h1v1h-1z" fill="#000"/>
<path d="M74 319h1v1h-1zM71 322h1v1h-1zM72 323h1v1h-1zM51 324h1v1h-1zM66 324h1v1h-1zM46 325h1v1h-1zM57 326h1v1h-1zM58 326h1v1h-1zM64 326h1v1h-1zM47 328h1v1h-1zM63 328h1v1h-1zM49 329h1v1h-1zM51 329h1v1h-1zM63 329h1v1h-1zM65 329h1v1h-1zM73 329h1v1h-1zM74 329h1v1h-1zM41 330h1v1h-1zM64 330h1v1h-1zM65 330h1v1h-1zM76 330h1v1h-1zM70 331h1v1h-1zM55 332h1v1h-1zM58 332h1v1h-1zM70 332h1v1h-1zM45 333h1v1h-1zM60 333h1v1h-1zM66 333h1v1h-1zM73 333h1v1h-1zM40 334h1v1h-1zM59 334h1v1h-1zM60 334h1v1h-1zM67 334h1v1h-1zM75 334h1v1h-1zM66 335h1v1h-1zM67 335h1v1h-1zM72 335h1v1h-1zM24 336h1v1h-1zM33 336h1v1h-1zM67 336h1v1h-1zM73 336h1v1h-1zM20 337h1v1h-1zM30 337h1v1h-1zM49 337h1v1h-1zM67 337h1v1h-1zM69 337h1v1h-1zM72 337h1v1h-1zM75 337h1v1h-1zM37 338h1v1h-1zM38 338h1v1h-1zM47 338h1v1h-1zM49 338h1v1h-1zM67 338h1v1h-1zM74 338h1v1h-1zM42 339h1v1h-1zM43 339h1v1h-1zM48 340h1v1h-1zM74 340h1v1h-1zM20 342h1v1h-1zM35 342h1v1h-1zM38 342h1v1h-1zM47 342h1v1h-1zM70 342h1v1h-1zM83 342h1v1h-1zM17 344h1v1h-1zM40 344h1v1h-1zM77 344h1v1h-1zM22 345h1v1h-1zM75 345h1v1h-1zM25 346h1v1h-1zM40 346h1v1h-1zM27 347h1v1h-1zM78 347h1v1h-1zM28 348h1v1h-1zM38 348h1v1h-1zM34 349h1v1h-1zM39 349h1v1h-1zM83 349h1v1h-1zM24 350h1v1h-1zM44 350h1v1h-1zM17 351h1v1h-1zM44 351h1v1h-1zM82 351h1v1h-1zM37 352h1v1h-1zM73 352h1v1h-1zM75 352h1v1h-1zM25 353h1v1h-1zM30 353h1v1h-1zM34 353h1v1h-1zM35 353h1v1h-1zM35 354h1v1h-1zM30 355h1v1h-1zM44 355h1v1h-1zM24 356h1v1h-1z" fill="#222"/>
<path d="M60 322h1v1h-1zM67 322h1v1h-1zM56 323h1v1h-1zM57 324h1v1h-1zM58 324h1v1h-1zM73 324h1v1h-1zM74 324h1v1h-1zM60 325h1v1h-1zM69 325h1v1h-1zM76 325h1v1h-1zM61 326h1v1h-1zM62 326h1v1h-1zM68 326h1v1h-1zM70 326h1v1h-1zM72 326h1v1h-1zM58 327h1v1h-1zM61 327h1v1h-1zM39 328h1v1h-1zM53 328h1v1h-1zM57 328h1v1h-1zM55 329h1v1h-1zM67 329h1v1h-1zM77 329h1v1h-1zM24 330h1v1h-1zM62 330h1v1h-1zM73 330h1v1h-1zM47 331h1v1h-1zM55 331h1v1h-1zM43 332h1v1h-1zM51 332h1v1h-1zM56 332h1v1h-1zM59 332h1v1h-1zM53 333h1v1h-1zM65 333h1v1h-1zM53 334h1v1h-1zM61 334h1v1h-1zM65 334h1v1h-1zM39 335h1v1h-1zM61 335h1v1h-1zM47 336h1v1h-1zM65 336h1v1h-1zM70 336h1v1h-1zM42 337h1v1h-1zM68 337h1v1h-1zM81 337h1v1h-1zM41 338h1v1h-1zM37 339h1v1h-1zM41 339h1v1h-1zM29 340h1v1h-1zM73 340h1v1h-1zM35 341h1v1h-1zM83 341h1v1h-1zM76 342h1v1h-1zM17 343h1v1h-1zM27 343h1v1h-1zM40 343h1v1h-1zM68 343h1v1h-1zM69 343h1v1h-1zM32 344h1v1h-1zM65 344h1v1h-1zM36 345h1v1h-1zM40 345h1v1h-1zM73 345h1v1h-1zM36 346h1v1h-1zM42 346h1v1h-1zM73 346h1v1h-1zM20 347h1v1h-1zM33 347h1v1h-1zM40 347h1v1h-1zM35 348h1v1h-1zM41 348h1v1h-1zM46 348h1v1h-1zM75 349h1v1h-1zM76 349h1v1h-1zM33 350h1v1h-1zM42 351h1v1h-1zM26 352h1v1h-1zM39 352h1v1h-1zM43 352h1v1h-1zM28 354h1v1h-1zM72 354h1v1h-1zM24 355h1v1h-1zM42 355h1v1h-1zM46 355h1v1h-1zM39 356h1v1h-1zM41 356h1v1h-1z" fill="#555"/>
<path d="" fill="#888"/>
<path d="M47.5,357 V344.5 H71.8 V357" fill="none" stroke="#333" stroke-width="0.9"/>
<rect x="16.9" y="299.5" width="67.80000000000001" height="57.5" fill="none" stroke="#2a2a2a" stroke-width="1.1"/>
<line x1="12.90" y1="349.81" x2="14.30" y2="349.81" stroke="#888" stroke-width="0.6"/>
<line x1="12.90" y1="342.62" x2="14.30" y2="342.62" stroke="#888" stroke-width="0.6"/>
<line x1="12.90" y1="335.44" x2="14.30" y2="335.44" stroke="#888" stroke-width="0.6"/>
<line x1="12.90" y1="328.25" x2="14.30" y2="328.25" stroke="#888" stroke-width="0.6"/>
<line x1="12.90" y1="321.06" x2="14.30" y2="321.06" stroke="#888" stroke-width="0.6"/>
<line x1="12.90" y1="313.88" x2="14.30" y2="313.88" stroke="#888" stroke-width="0.6"/>
<line x1="12.90" y1="306.69" x2="14.30" y2="306.69" stroke="#888" stroke-width="0.6"/>
<rect x="85.9" y="299.3" width="2.6" height="57.69999999999999" fill="url(#gband)"/>
<path d="M134 317h1v1h-1zM129 318h1v1h-1zM140 318h1v1h-1zM130 319h1v1h-1zM132 319h1v1h-1zM134 319h1v1h-1zM139 319h1v1h-1zM132 320h1v1h-1zM133 320h1v1h-1zM134 320h1v1h-1zM135 320h1v1h-1zM139 320h1v1h-1zM126 321h1v1h-1zM128 321h1v1h-1zM131 321h1v1h-1zM133 321h1v1h-1zM136 321h1v1h-1zM137 321h1v1h-1zM139 321h1v1h-1zM140 321h1v1h-1zM141 321h1v1h-1zM142 321h1v1h-1zM143 321h1v1h-1zM127 322h1v1h-1zM128 322h1v1h-1zM129 322h1v1h-1zM130 322h1v1h-1zM132 322h1v1h-1zM134 322h1v1h-1zM135 322h1v1h-1zM136 322h1v1h-1zM139 322h1v1h-1zM141 322h1v1h-1zM142 322h1v1h-1zM149 322h1v1h-1zM104 323h1v1h-1zM130 323h1v1h-1zM134 323h1v1h-1zM135 323h1v1h-1zM136 323h1v1h-1zM137 323h1v1h-1zM138 323h1v1h-1zM139 323h1v1h-1zM140 323h1v1h-1zM141 323h1v1h-1zM146 323h1v1h-1zM126 324h1v1h-1zM127 324h1v1h-1zM130 324h1v1h-1zM132 324h1v1h-1zM133 324h1v1h-1zM134 324h1v1h-1zM135 324h1v1h-1zM136 324h1v1h-1zM137 324h1v1h-1zM138 324h1v1h-1zM139 324h1v1h-1zM140 324h1v1h-1zM141 324h1v1h-1zM143 324h1v1h-1zM144 324h1v1h-1zM148 324h1v1h-1zM91 325h1v1h-1zM127 325h1v1h-1zM128 325h1v1h-1zM129 325h1v1h-1zM131 325h1v1h-1zM132 325h1v1h-1zM133 325h1v1h-1zM135 325h1v1h-1zM136 325h1v1h-1zM137 325h1v1h-1zM138 325h1v1h-1zM139 325h1v1h-1zM141 325h1v1h-1zM94 326h1v1h-1zM126 326h1v1h-1zM127 326h1v1h-1zM128 326h1v1h-1zM129 326h1v1h-1zM130 326h1v1h-1zM131 326h1v1h-1zM132 326h1v1h-1zM133 326h1v1h-1zM134 326h1v1h-1zM135 326h1v1h-1zM136 326h1v1h-1zM137 326h1v1h-1zM138 326h1v1h-1zM140 326h1v1h-1zM141 326h1v1h-1zM145 326h1v1h-1zM146 326h1v1h-1zM125 327h1v1h-1zM126 327h1v1h-1zM128 327h1v1h-1zM129 327h1v1h-1zM131 327h1v1h-1zM132 327h1v1h-1zM133 327h1v1h-1zM134 327h1v1h-1zM135 327h1v1h-1zM136 327h1v1h-1zM137 327h1v1h-1zM138 327h1v1h-1zM139 327h1v1h-1zM140 327h1v1h-1zM141 327h1v1h-1zM142 327h1v1h-1zM143 327h1v1h-1zM145 327h1v1h-1zM100 328h1v1h-1zM110 328h1v1h-1zM117 328h1v1h-1zM123 328h1v1h-1zM126 328h1v1h-1zM127 328h1v1h-1zM129 328h1v1h-1zM130 328h1v1h-1zM131 328h1v1h-1zM132 328h1v1h-1zM133 328h1v1h-1zM134 328h1v1h-1zM136 328h1v1h-1zM137 328h1v1h-1zM138 328h1v1h-1zM139 328h1v1h-1zM140 328h1v1h-1zM141 328h1v1h-1zM143 328h1v1h-1zM145 328h1v1h-1zM110 329h1v1h-1zM111 329h1v1h-1zM129 329h1v1h-1zM130 329h1v1h-1zM131 329h1v1h-1zM132 329h1v1h-1zM133 329h1v1h-1zM134 329h1v1h-1zM135 329h1v1h-1zM136 329h1v1h-1zM137 329h1v1h-1zM138 329h1v1h-1zM139 329h1v1h-1zM140 329h1v1h-1zM141 329h1v1h-1zM142 329h1v1h-1zM144 329h1v1h-1zM146 329h1v1h-1zM96 330h1v1h-1zM97 330h1v1h-1zM114 330h1v1h-1zM127 330h1v1h-1zM128 330h1v1h-1zM129 330h1v1h-1zM130 330h1v1h-1zM132 330h1v1h-1zM133 330h1v1h-1zM134 330h1v1h-1zM135 330h1v1h-1zM136 330h1v1h-1zM137 330h1v1h-1zM138 330h1v1h-1zM139 330h1v1h-1zM140 330h1v1h-1zM143 330h1v1h-1zM144 330h1v1h-1zM145 330h1v1h-1zM102 331h1v1h-1zM117 331h1v1h-1zM119 331h1v1h-1zM123 331h1v1h-1zM126 331h1v1h-1zM127 331h1v1h-1zM128 331h1v1h-1zM129 331h1v1h-1zM130 331h1v1h-1zM132 331h1v1h-1zM133 331h1v1h-1zM135 331h1v1h-1zM136 331h1v1h-1zM137 331h1v1h-1zM138 331h1v1h-1zM139 331h1v1h-1zM140 331h1v1h-1zM141 331h1v1h-1zM142 331h1v1h-1zM145 331h1v1h-1zM89 332h1v1h-1zM118 332h1v1h-1zM119 332h1v1h-1zM120 332h1v1h-1zM124 332h1v1h-1zM126 332h1v1h-1zM127 332h1v1h-1zM128 332h1v1h-1zM129 332h1v1h-1zM130 332h1v1h-1zM131 332h1v1h-1zM132 332h1v1h-1zM134 332h1v1h-1zM135 332h1v1h-1zM136 332h1v1h-1zM137 332h1v1h-1zM138 332h1v1h-1zM140 332h1v1h-1zM141 332h1v1h-1zM142 332h1v1h-1zM143 332h1v1h-1zM144 332h1v1h-1zM145 332h1v1h-1zM148 332h1v1h-1zM108 333h1v1h-1zM124 333h1v1h-1zM127 333h1v1h-1zM128 333h1v1h-1zM129 333h1v1h-1zM130 333h1v1h-1zM131 333h1v1h-1zM132 333h1v1h-1zM133 333h1v1h-1zM134 333h1v1h-1zM136 333h1v1h-1zM137 333h1v1h-1zM138 333h1v1h-1zM139 333h1v1h-1zM140 333h1v1h-1zM141 333h1v1h-1zM142 333h1v1h-1zM117 334h1v1h-1zM122 334h1v1h-1zM124 334h1v1h-1zM125 334h1v1h-1zM127 334h1v1h-1zM128 334h1v1h-1zM129 334h1v1h-1zM131 334h1v1h-1zM132 334h1v1h-1zM133 334h1v1h-1zM134 334h1v1h-1zM135 334h1v1h-1zM138 334h1v1h-1zM139 334h1v1h-1zM141 334h1v1h-1zM142 334h1v1h-1zM95 335h1v1h-1zM102 335h1v1h-1zM103 335h1v1h-1zM116 335h1v1h-1zM119 335h1v1h-1zM122 335h1v1h-1zM123 335h1v1h-1zM126 335h1v1h-1zM128 335h1v1h-1zM129 335h1v1h-1zM130 335h1v1h-1zM131 335h1v1h-1zM132 335h1v1h-1zM133 335h1v1h-1zM134 335h1v1h-1zM137 335h1v1h-1zM139 335h1v1h-1zM140 335h1v1h-1zM141 335h1v1h-1zM142 335h1v1h-1zM144 335h1v1h-1zM145 335h1v1h-1zM147 335h1v1h-1zM122 336h1v1h-1zM125 336h1v1h-1zM128 336h1v1h-1zM129 336h1v1h-1zM130 336h1v1h-1zM131 336h1v1h-1zM132 336h1v1h-1zM135 336h1v1h-1zM136 336h1v1h-1zM137 336h1v1h-1zM138 336h1v1h-1zM142 336h1v1h-1zM144 336h1v1h-1zM145 336h1v1h-1zM148 336h1v1h-1zM98 337h1v1h-1zM103 337h1v1h-1zM104 337h1v1h-1zM107 337h1v1h-1zM110 337h1v1h-1zM111 337h1v1h-1zM124 337h1v1h-1zM125 337h1v1h-1zM127 337h1v1h-1zM128 337h1v1h-1zM131 337h1v1h-1zM132 337h1v1h-1zM133 337h1v1h-1zM134 337h1v1h-1zM135 337h1v1h-1zM136 337h1v1h-1zM138 337h1v1h-1zM139 337h1v1h-1zM140 337h1v1h-1zM141 337h1v1h-1zM146 337h1v1h-1zM92 338h1v1h-1zM97 338h1v1h-1zM98 338h1v1h-1zM103 338h1v1h-1zM109 338h1v1h-1zM117 338h1v1h-1zM118 338h1v1h-1zM123 338h1v1h-1zM126 338h1v1h-1zM127 338h1v1h-1zM128 338h1v1h-1zM132 338h1v1h-1zM133 338h1v1h-1zM134 338h1v1h-1zM135 338h1v1h-1zM136 338h1v1h-1zM137 338h1v1h-1zM138 338h1v1h-1zM139 338h1v1h-1zM140 338h1v1h-1zM142 338h1v1h-1zM143 338h1v1h-1zM144 338h1v1h-1zM149 338h1v1h-1zM96 339h1v1h-1zM102 339h1v1h-1zM109 339h1v1h-1zM114 339h1v1h-1zM117 339h1v1h-1zM125 339h1v1h-1zM128 339h1v1h-1zM129 339h1v1h-1zM130 339h1v1h-1zM131 339h1v1h-1zM132 339h1v1h-1zM133 339h1v1h-1zM134 339h1v1h-1zM135 339h1v1h-1zM136 339h1v1h-1zM137 339h1v1h-1zM138 339h1v1h-1zM139 339h1v1h-1zM140 339h1v1h-1zM143 339h1v1h-1zM144 339h1v1h-1zM95 340h1v1h-1zM100 340h1v1h-1zM101 340h1v1h-1zM102 340h1v1h-1zM111 340h1v1h-1zM114 340h1v1h-1zM117 340h1v1h-1zM118 340h1v1h-1zM124 340h1v1h-1zM125 340h1v1h-1zM126 340h1v1h-1zM127 340h1v1h-1zM128 340h1v1h-1zM129 340h1v1h-1zM131 340h1v1h-1zM132 340h1v1h-1zM133 340h1v1h-1zM134 340h1v1h-1zM136 340h1v1h-1zM137 340h1v1h-1zM140 340h1v1h-1zM141 340h1v1h-1zM142 340h1v1h-1zM143 340h1v1h-1zM148 340h1v1h-1zM149 340h1v1h-1zM95 341h1v1h-1zM104 341h1v1h-1zM113 341h1v1h-1zM115 341h1v1h-1zM117 341h1v1h-1zM126 341h1v1h-1zM128 341h1v1h-1zM129 341h1v1h-1zM130 341h1v1h-1zM133 341h1v1h-1zM134 341h1v1h-1zM135 341h1v1h-1zM136 341h1v1h-1zM137 341h1v1h-1zM141 341h1v1h-1zM143 341h1v1h-1zM89 342h1v1h-1zM106 342h1v1h-1zM108 342h1v1h-1zM109 342h1v1h-1zM111 342h1v1h-1zM115 342h1v1h-1zM117 342h1v1h-1zM118 342h1v1h-1zM123 342h1v1h-1zM124 342h1v1h-1zM125 342h1v1h-1zM126 342h1v1h-1zM127 342h1v1h-1zM128 342h1v1h-1zM129 342h1v1h-1zM130 342h1v1h-1zM131 342h1v1h-1zM132 342h1v1h-1zM134 342h1v1h-1zM135 342h1v1h-1zM136 342h1v1h-1zM138 342h1v1h-1zM141 342h1v1h-1zM143 342h1v1h-1zM145 342h1v1h-1zM93 343h1v1h-1zM102 343h1v1h-1zM110 343h1v1h-1zM111 343h1v1h-1zM114 343h1v1h-1zM115 343h1v1h-1zM116 343h1v1h-1zM125 343h1v1h-1zM127 343h1v1h-1zM129 343h1v1h-1zM130 343h1v1h-1zM132 343h1v1h-1zM133 343h1v1h-1zM134 343h1v1h-1zM135 343h1v1h-1zM136 343h1v1h-1zM139 343h1v1h-1zM140 343h1v1h-1zM142 343h1v1h-1zM144 343h1v1h-1zM146 343h1v1h-1zM91 344h1v1h-1zM99 344h1v1h-1zM101 344h1v1h-1zM110 344h1v1h-1zM127 344h1v1h-1zM128 344h1v1h-1zM129 344h1v1h-1zM130 344h1v1h-1zM134 344h1v1h-1zM136 344h1v1h-1zM137 344h1v1h-1zM138 344h1v1h-1zM139 344h1v1h-1zM141 344h1v1h-1zM142 344h1v1h-1zM145 344h1v1h-1zM146 344h1v1h-1zM89 345h1v1h-1zM98 345h1v1h-1zM99 345h1v1h-1zM116 345h1v1h-1zM126 345h1v1h-1zM128 345h1v1h-1zM129 345h1v1h-1zM130 345h1v1h-1zM131 345h1v1h-1zM132 345h1v1h-1zM133 345h1v1h-1zM134 345h1v1h-1zM135 345h1v1h-1zM136 345h1v1h-1zM137 345h1v1h-1zM138 345h1v1h-1zM139 345h1v1h-1zM140 345h1v1h-1zM141 345h1v1h-1zM142 345h1v1h-1zM143 345h1v1h-1zM144 345h1v1h-1zM146 345h1v1h-1zM97 346h1v1h-1zM100 346h1v1h-1zM105 346h1v1h-1zM107 346h1v1h-1zM114 346h1v1h-1zM123 346h1v1h-1zM124 346h1v1h-1zM126 346h1v1h-1zM127 346h1v1h-1zM128 346h1v1h-1zM129 346h1v1h-1zM130 346h1v1h-1zM131 346h1v1h-1zM132 346h1v1h-1zM133 346h1v1h-1zM134 346h1v1h-1zM135 346h1v1h-1zM136 346h1v1h-1zM137 346h1v1h-1zM138 346h1v1h-1zM139 346h1v1h-1zM140 346h1v1h-1zM142 346h1v1h-1zM143 346h1v1h-1zM144 346h1v1h-1zM101 347h1v1h-1zM113 347h1v1h-1zM121 347h1v1h-1zM124 347h1v1h-1zM126 347h1v1h-1zM127 347h1v1h-1zM128 347h1v1h-1zM129 347h1v1h-1zM130 347h1v1h-1zM131 347h1v1h-1zM132 347h1v1h-1zM133 347h1v1h-1zM134 347h1v1h-1zM135 347h1v1h-1zM137 347h1v1h-1zM138 347h1v1h-1zM139 347h1v1h-1zM141 347h1v1h-1zM142 347h1v1h-1zM144 347h1v1h-1zM145 347h1v1h-1zM106 348h1v1h-1zM107 348h1v1h-1zM108 348h1v1h-1zM119 348h1v1h-1zM128 348h1v1h-1zM129 348h1v1h-1zM130 348h1v1h-1zM131 348h1v1h-1zM132 348h1v1h-1zM133 348h1v1h-1zM134 348h1v1h-1zM135 348h1v1h-1zM136 348h1v1h-1zM137 348h1v1h-1zM138 348h1v1h-1zM139 348h1v1h-1zM140 348h1v1h-1zM141 348h1v1h-1zM142 348h1v1h-1zM143 348h1v1h-1zM144 348h1v1h-1zM145 348h1v1h-1zM147 348h1v1h-1zM108 349h1v1h-1zM109 349h1v1h-1zM114 349h1v1h-1zM115 349h1v1h-1zM117 349h1v1h-1zM123 349h1v1h-1zM124 349h1v1h-1zM126 349h1v1h-1zM127 349h1v1h-1zM128 349h1v1h-1zM129 349h1v1h-1zM130 349h1v1h-1zM131 349h1v1h-1zM132 349h1v1h-1zM133 349h1v1h-1zM134 349h1v1h-1zM135 349h1v1h-1zM136 349h1v1h-1zM137 349h1v1h-1zM138 349h1v1h-1zM139 349h1v1h-1zM140 349h1v1h-1zM141 349h1v1h-1zM143 349h1v1h-1zM144 349h1v1h-1zM145 349h1v1h-1zM147 349h1v1h-1zM99 350h1v1h-1zM106 350h1v1h-1zM110 350h1v1h-1zM111 350h1v1h-1zM114 350h1v1h-1zM118 350h1v1h-1zM125 350h1v1h-1zM126 350h1v1h-1zM127 350h1v1h-1zM128 350h1v1h-1zM129 350h1v1h-1zM130 350h1v1h-1zM131 350h1v1h-1zM132 350h1v1h-1zM133 350h1v1h-1zM134 350h1v1h-1zM135 350h1v1h-1zM136 350h1v1h-1zM137 350h1v1h-1zM138 350h1v1h-1zM139 350h1v1h-1zM140 350h1v1h-1zM141 350h1v1h-1zM142 350h1v1h-1zM143 350h1v1h-1zM144 350h1v1h-1zM146 350h1v1h-1zM91 351h1v1h-1zM96 351h1v1h-1zM104 351h1v1h-1zM106 351h1v1h-1zM115 351h1v1h-1zM116 351h1v1h-1zM124 351h1v1h-1zM128 351h1v1h-1zM129 351h1v1h-1zM130 351h1v1h-1zM131 351h1v1h-1zM132 351h1v1h-1zM133 351h1v1h-1zM134 351h1v1h-1zM135 351h1v1h-1zM136 351h1v1h-1zM137 351h1v1h-1zM138 351h1v1h-1zM139 351h1v1h-1zM140 351h1v1h-1zM141 351h1v1h-1zM142 351h1v1h-1zM143 351h1v1h-1zM144 351h1v1h-1zM145 351h1v1h-1zM146 351h1v1h-1zM152 351h1v1h-1zM100 352h1v1h-1zM106 352h1v1h-1zM109 352h1v1h-1zM123 352h1v1h-1zM125 352h1v1h-1zM128 352h1v1h-1zM129 352h1v1h-1zM130 352h1v1h-1zM131 352h1v1h-1zM132 352h1v1h-1zM133 352h1v1h-1zM134 352h1v1h-1zM135 352h1v1h-1zM136 352h1v1h-1zM137 352h1v1h-1zM138 352h1v1h-1zM139 352h1v1h-1zM140 352h1v1h-1zM141 352h1v1h-1zM142 352h1v1h-1zM143 352h1v1h-1zM144 352h1v1h-1zM145 352h1v1h-1zM89 353h1v1h-1zM106 353h1v1h-1zM116 353h1v1h-1zM119 353h1v1h-1zM121 353h1v1h-1zM123 353h1v1h-1zM126 353h1v1h-1zM127 353h1v1h-1zM128 353h1v1h-1zM129 353h1v1h-1zM130 353h1v1h-1zM131 353h1v1h-1zM132 353h1v1h-1zM133 353h1v1h-1zM134 353h1v1h-1zM135 353h1v1h-1zM136 353h1v1h-1zM137 353h1v1h-1zM138 353h1v1h-1zM139 353h1v1h-1zM140 353h1v1h-1zM141 353h1v1h-1zM142 353h1v1h-1zM143 353h1v1h-1zM144 353h1v1h-1zM145 353h1v1h-1zM97 354h1v1h-1zM105 354h1v1h-1zM107 354h1v1h-1zM118 354h1v1h-1zM128 354h1v1h-1zM129 354h1v1h-1zM130 354h1v1h-1zM131 354h1v1h-1zM132 354h1v1h-1zM133 354h1v1h-1zM134 354h1v1h-1zM135 354h1v1h-1zM136 354h1v1h-1zM137 354h1v1h-1zM138 354h1v1h-1zM139 354h1v1h-1zM140 354h1v1h-1zM141 354h1v1h-1zM142 354h1v1h-1zM143 354h1v1h-1zM144 354h1v1h-1zM145 354h1v1h-1zM146 354h1v1h-1zM94 355h1v1h-1zM97 355h1v1h-1zM104 355h1v1h-1zM106 355h1v1h-1zM112 355h1v1h-1zM115 355h1v1h-1zM116 355h1v1h-1zM126 355h1v1h-1zM127 355h1v1h-1zM128 355h1v1h-1zM129 355h1v1h-1zM130 355h1v1h-1zM131 355h1v1h-1zM132 355h1v1h-1zM133 355h1v1h-1zM134 355h1v1h-1zM135 355h1v1h-1zM136 355h1v1h-1zM137 355h1v1h-1zM138 355h1v1h-1zM139 355h1v1h-1zM140 355h1v1h-1zM141 355h1v1h-1zM142 355h1v1h-1zM143 355h1v1h-1zM144 355h1v1h-1zM145 355h1v1h-1zM101 356h1v1h-1zM105 356h1v1h-1zM123 356h1v1h-1zM127 356h1v1h-1zM128 356h1v1h-1zM129 356h1v1h-1zM130 356h1v1h-1zM131 356h1v1h-1zM132 356h1v1h-1zM133 356h1v1h-1zM134 356h1v1h-1zM135 356h1v1h-1zM136 356h1v1h-1zM137 356h1v1h-1zM138 356h1v1h-1zM139 356h1v1h-1zM140 356h1v1h-1zM141 356h1v1h-1zM142 356h1v1h-1zM143 356h1v1h-1zM144 356h1v1h-1zM147 356h1v1h-1z" fill="#000"/>
<path d="M134 318h1v1h-1zM135 319h1v1h-1zM144 320h1v1h-1zM123 321h1v1h-1zM116 322h1v1h-1zM145 322h1v1h-1zM122 323h1v1h-1zM117 324h1v1h-1zM125 324h1v1h-1zM145 324h1v1h-1zM100 325h1v1h-1zM146 325h1v1h-1zM148 325h1v1h-1zM98 326h1v1h-1zM124 327h1v1h-1zM147 327h1v1h-1zM116 328h1v1h-1zM100 329h1v1h-1zM118 330h1v1h-1zM119 330h1v1h-1zM125 331h1v1h-1zM107 332h1v1h-1zM93 333h1v1h-1zM116 333h1v1h-1zM117 333h1v1h-1zM118 333h1v1h-1zM145 333h1v1h-1zM109 334h1v1h-1zM114 334h1v1h-1zM119 334h1v1h-1zM123 334h1v1h-1zM104 335h1v1h-1zM105 335h1v1h-1zM100 336h1v1h-1zM121 336h1v1h-1zM100 338h1v1h-1zM115 338h1v1h-1zM107 339h1v1h-1zM108 339h1v1h-1zM115 339h1v1h-1zM119 340h1v1h-1zM122 340h1v1h-1zM147 340h1v1h-1zM102 341h1v1h-1zM146 341h1v1h-1zM154 341h1v1h-1zM105 343h1v1h-1zM107 343h1v1h-1zM121 343h1v1h-1zM93 344h1v1h-1zM115 344h1v1h-1zM116 344h1v1h-1zM121 344h1v1h-1zM101 345h1v1h-1zM103 345h1v1h-1zM104 345h1v1h-1zM106 345h1v1h-1zM108 345h1v1h-1zM112 345h1v1h-1zM122 345h1v1h-1zM147 345h1v1h-1zM98 346h1v1h-1zM99 346h1v1h-1zM102 346h1v1h-1zM104 346h1v1h-1zM99 347h1v1h-1zM112 347h1v1h-1zM119 347h1v1h-1zM120 347h1v1h-1zM99 348h1v1h-1zM101 348h1v1h-1zM103 348h1v1h-1zM112 348h1v1h-1zM92 349h1v1h-1zM96 349h1v1h-1zM90 350h1v1h-1zM112 350h1v1h-1zM102 351h1v1h-1zM103 351h1v1h-1zM107 351h1v1h-1zM109 351h1v1h-1zM110 351h1v1h-1zM120 351h1v1h-1zM123 351h1v1h-1zM112 352h1v1h-1zM118 352h1v1h-1zM120 352h1v1h-1zM121 352h1v1h-1zM100 353h1v1h-1zM113 354h1v1h-1zM108 355h1v1h-1zM103 356h1v1h-1zM110 356h1v1h-1zM111 356h1v1h-1zM112 356h1v1h-1z" fill="#222"/>
<path d="M137 319h1v1h-1zM149 320h1v1h-1zM145 323h1v1h-1zM93 325h1v1h-1zM125 326h1v1h-1zM118 327h1v1h-1zM122 327h1v1h-1zM123 329h1v1h-1zM124 329h1v1h-1zM111 333h1v1h-1zM110 334h1v1h-1zM93 335h1v1h-1zM109 335h1v1h-1zM120 335h1v1h-1zM146 335h1v1h-1zM103 336h1v1h-1zM119 336h1v1h-1zM120 336h1v1h-1zM149 336h1v1h-1zM95 337h1v1h-1zM148 337h1v1h-1zM111 338h1v1h-1zM147 338h1v1h-1zM122 339h1v1h-1zM121 340h1v1h-1zM145 340h1v1h-1zM108 341h1v1h-1zM112 341h1v1h-1zM118 341h1v1h-1zM98 342h1v1h-1zM113 343h1v1h-1zM118 343h1v1h-1zM120 343h1v1h-1zM145 343h1v1h-1zM148 343h1v1h-1zM103 344h1v1h-1zM104 344h1v1h-1zM111 344h1v1h-1zM112 344h1v1h-1zM114 344h1v1h-1zM113 345h1v1h-1zM108 346h1v1h-1zM118 346h1v1h-1zM117 347h1v1h-1zM122 347h1v1h-1zM114 348h1v1h-1zM110 349h1v1h-1zM103 350h1v1h-1zM107 350h1v1h-1zM123 350h1v1h-1zM92 351h1v1h-1zM111 351h1v1h-1zM105 352h1v1h-1zM148 352h1v1h-1zM102 353h1v1h-1zM107 353h1v1h-1zM112 353h1v1h-1zM95 354h1v1h-1zM102 354h1v1h-1zM101 355h1v1h-1zM109 355h1v1h-1zM111 355h1v1h-1zM147 355h1v1h-1zM115 356h1v1h-1zM125 356h1v1h-1z" fill="#555"/>
<path d="" fill="#888"/>
<path d="M128.3,357 V345.6 H146.2 V357" fill="none" stroke="#d0d0d0" stroke-width="0.9"/>
<rect x="88.5" y="299.3" width="71.30000000000001" height="57.69999999999999" fill="none" stroke="#2a2a2a" stroke-width="1.1"/>
<line x1="84.50" y1="349.79" x2="85.90" y2="349.79" stroke="#888" stroke-width="0.6"/>
<line x1="84.50" y1="342.57" x2="85.90" y2="342.57" stroke="#888" stroke-width="0.6"/>
<line x1="84.50" y1="335.36" x2="85.90" y2="335.36" stroke="#888" stroke-width="0.6"/>
<line x1="84.50" y1="328.15" x2="85.90" y2="328.15" stroke="#888" stroke-width="0.6"/>
<line x1="84.50" y1="320.94" x2="85.90" y2="320.94" stroke="#888" stroke-width="0.6"/>
<line x1="84.50" y1="313.73" x2="85.90" y2="313.73" stroke="#888" stroke-width="0.6"/>
<line x1="84.50" y1="306.51" x2="85.90" y2="306.51" stroke="#888" stroke-width="0.6"/>
<rect x="160.9" y="299.3" width="2.6" height="57.69999999999999" fill="url(#gband)"/>
<path d="M189 319h1v1h-1zM195 319h1v1h-1zM207 319h1v1h-1zM210 319h1v1h-1zM211 319h1v1h-1zM193 320h1v1h-1zM199 320h1v1h-1zM203 320h1v1h-1zM204 320h1v1h-1zM208 320h1v1h-1zM209 320h1v1h-1zM213 320h1v1h-1zM217 320h1v1h-1zM189 321h1v1h-1zM202 321h1v1h-1zM203 321h1v1h-1zM204 321h1v1h-1zM205 321h1v1h-1zM206 321h1v1h-1zM207 321h1v1h-1zM208 321h1v1h-1zM209 321h1v1h-1zM213 321h1v1h-1zM214 321h1v1h-1zM217 321h1v1h-1zM218 321h1v1h-1zM221 321h1v1h-1zM190 322h1v1h-1zM193 322h1v1h-1zM194 322h1v1h-1zM195 322h1v1h-1zM196 322h1v1h-1zM197 322h1v1h-1zM199 322h1v1h-1zM200 322h1v1h-1zM202 322h1v1h-1zM204 322h1v1h-1zM205 322h1v1h-1zM209 322h1v1h-1zM210 322h1v1h-1zM211 322h1v1h-1zM214 322h1v1h-1zM215 322h1v1h-1zM216 322h1v1h-1zM217 322h1v1h-1zM218 322h1v1h-1zM193 323h1v1h-1zM194 323h1v1h-1zM195 323h1v1h-1zM197 323h1v1h-1zM198 323h1v1h-1zM200 323h1v1h-1zM201 323h1v1h-1zM202 323h1v1h-1zM204 323h1v1h-1zM205 323h1v1h-1zM206 323h1v1h-1zM208 323h1v1h-1zM209 323h1v1h-1zM210 323h1v1h-1zM211 323h1v1h-1zM212 323h1v1h-1zM214 323h1v1h-1zM215 323h1v1h-1zM216 323h1v1h-1zM217 323h1v1h-1zM183 324h1v1h-1zM188 324h1v1h-1zM193 324h1v1h-1zM194 324h1v1h-1zM195 324h1v1h-1zM198 324h1v1h-1zM199 324h1v1h-1zM200 324h1v1h-1zM201 324h1v1h-1zM202 324h1v1h-1zM203 324h1v1h-1zM204 324h1v1h-1zM205 324h1v1h-1zM206 324h1v1h-1zM208 324h1v1h-1zM209 324h1v1h-1zM210 324h1v1h-1zM211 324h1v1h-1zM212 324h1v1h-1zM213 324h1v1h-1zM214 324h1v1h-1zM215 324h1v1h-1zM216 324h1v1h-1zM218 324h1v1h-1zM219 324h1v1h-1zM168 325h1v1h-1zM193 325h1v1h-1zM194 325h1v1h-1zM195 325h1v1h-1zM196 325h1v1h-1zM197 325h1v1h-1zM198 325h1v1h-1zM200 325h1v1h-1zM201 325h1v1h-1zM202 325h1v1h-1zM203 325h1v1h-1zM204 325h1v1h-1zM205 325h1v1h-1zM206 325h1v1h-1zM207 325h1v1h-1zM208 325h1v1h-1zM209 325h1v1h-1zM210 325h1v1h-1zM211 325h1v1h-1zM212 325h1v1h-1zM213 325h1v1h-1zM214 325h1v1h-1zM215 325h1v1h-1zM218 325h1v1h-1zM219 325h1v1h-1zM192 326h1v1h-1zM195 326h1v1h-1zM196 326h1v1h-1zM197 326h1v1h-1zM198 326h1v1h-1zM199 326h1v1h-1zM200 326h1v1h-1zM201 326h1v1h-1zM202 326h1v1h-1zM203 326h1v1h-1zM204 326h1v1h-1zM205 326h1v1h-1zM206 326h1v1h-1zM207 326h1v1h-1zM209 326h1v1h-1zM210 326h1v1h-1zM211 326h1v1h-1zM212 326h1v1h-1zM213 326h1v1h-1zM214 326h1v1h-1zM215 326h1v1h-1zM217 326h1v1h-1zM164 327h1v1h-1zM182 327h1v1h-1zM192 327h1v1h-1zM194 327h1v1h-1zM195 327h1v1h-1zM196 327h1v1h-1zM197 327h1v1h-1zM199 327h1v1h-1zM200 327h1v1h-1zM201 327h1v1h-1zM202 327h1v1h-1zM203 327h1v1h-1zM204 327h1v1h-1zM205 327h1v1h-1zM206 327h1v1h-1zM207 327h1v1h-1zM208 327h1v1h-1zM209 327h1v1h-1zM211 327h1v1h-1zM212 327h1v1h-1zM213 327h1v1h-1zM214 327h1v1h-1zM217 327h1v1h-1zM218 327h1v1h-1zM219 327h1v1h-1zM220 327h1v1h-1zM192 328h1v1h-1zM193 328h1v1h-1zM194 328h1v1h-1zM195 328h1v1h-1zM196 328h1v1h-1zM197 328h1v1h-1zM198 328h1v1h-1zM199 328h1v1h-1zM201 328h1v1h-1zM202 328h1v1h-1zM203 328h1v1h-1zM204 328h1v1h-1zM205 328h1v1h-1zM206 328h1v1h-1zM207 328h1v1h-1zM208 328h1v1h-1zM209 328h1v1h-1zM210 328h1v1h-1zM211 328h1v1h-1zM212 328h1v1h-1zM214 328h1v1h-1zM215 328h1v1h-1zM216 328h1v1h-1zM218 328h1v1h-1zM190 329h1v1h-1zM192 329h1v1h-1zM194 329h1v1h-1zM195 329h1v1h-1zM196 329h1v1h-1zM197 329h1v1h-1zM198 329h1v1h-1zM200 329h1v1h-1zM201 329h1v1h-1zM202 329h1v1h-1zM203 329h1v1h-1zM204 329h1v1h-1zM205 329h1v1h-1zM206 329h1v1h-1zM207 329h1v1h-1zM208 329h1v1h-1zM209 329h1v1h-1zM211 329h1v1h-1zM212 329h1v1h-1zM213 329h1v1h-1zM214 329h1v1h-1zM215 329h1v1h-1zM216 329h1v1h-1zM218 329h1v1h-1zM220 329h1v1h-1zM173 330h1v1h-1zM180 330h1v1h-1zM185 330h1v1h-1zM195 330h1v1h-1zM196 330h1v1h-1zM197 330h1v1h-1zM198 330h1v1h-1zM199 330h1v1h-1zM200 330h1v1h-1zM201 330h1v1h-1zM202 330h1v1h-1zM203 330h1v1h-1zM204 330h1v1h-1zM205 330h1v1h-1zM206 330h1v1h-1zM208 330h1v1h-1zM209 330h1v1h-1zM210 330h1v1h-1zM211 330h1v1h-1zM212 330h1v1h-1zM214 330h1v1h-1zM215 330h1v1h-1zM217 330h1v1h-1zM218 330h1v1h-1zM168 331h1v1h-1zM186 331h1v1h-1zM188 331h1v1h-1zM194 331h1v1h-1zM195 331h1v1h-1zM196 331h1v1h-1zM197 331h1v1h-1zM198 331h1v1h-1zM199 331h1v1h-1zM200 331h1v1h-1zM201 331h1v1h-1zM202 331h1v1h-1zM203 331h1v1h-1zM204 331h1v1h-1zM205 331h1v1h-1zM207 331h1v1h-1zM208 331h1v1h-1zM210 331h1v1h-1zM211 331h1v1h-1zM212 331h1v1h-1zM213 331h1v1h-1zM216 331h1v1h-1zM217 331h1v1h-1zM218 331h1v1h-1zM219 331h1v1h-1zM220 331h1v1h-1zM168 332h1v1h-1zM191 332h1v1h-1zM192 332h1v1h-1zM194 332h1v1h-1zM195 332h1v1h-1zM196 332h1v1h-1zM198 332h1v1h-1zM200 332h1v1h-1zM201 332h1v1h-1zM202 332h1v1h-1zM204 332h1v1h-1zM205 332h1v1h-1zM206 332h1v1h-1zM207 332h1v1h-1zM208 332h1v1h-1zM209 332h1v1h-1zM210 332h1v1h-1zM211 332h1v1h-1zM212 332h1v1h-1zM215 332h1v1h-1zM217 332h1v1h-1zM218 332h1v1h-1zM219 332h1v1h-1zM221 332h1v1h-1zM178 333h1v1h-1zM192 333h1v1h-1zM194 333h1v1h-1zM196 333h1v1h-1zM197 333h1v1h-1zM198 333h1v1h-1zM199 333h1v1h-1zM200 333h1v1h-1zM201 333h1v1h-1zM202 333h1v1h-1zM205 333h1v1h-1zM206 333h1v1h-1zM207 333h1v1h-1zM208 333h1v1h-1zM209 333h1v1h-1zM211 333h1v1h-1zM212 333h1v1h-1zM213 333h1v1h-1zM214 333h1v1h-1zM216 333h1v1h-1zM219 333h1v1h-1zM172 334h1v1h-1zM177 334h1v1h-1zM184 334h1v1h-1zM189 334h1v1h-1zM192 334h1v1h-1zM194 334h1v1h-1zM195 334h1v1h-1zM196 334h1v1h-1zM197 334h1v1h-1zM198 334h1v1h-1zM199 334h1v1h-1zM200 334h1v1h-1zM201 334h1v1h-1zM202 334h1v1h-1zM203 334h1v1h-1zM204 334h1v1h-1zM205 334h1v1h-1zM206 334h1v1h-1zM208 334h1v1h-1zM211 334h1v1h-1zM212 334h1v1h-1zM213 334h1v1h-1zM216 334h1v1h-1zM218 334h1v1h-1zM219 334h1v1h-1zM176 335h1v1h-1zM191 335h1v1h-1zM192 335h1v1h-1zM193 335h1v1h-1zM195 335h1v1h-1zM197 335h1v1h-1zM198 335h1v1h-1zM199 335h1v1h-1zM201 335h1v1h-1zM203 335h1v1h-1zM206 335h1v1h-1zM207 335h1v1h-1zM209 335h1v1h-1zM210 335h1v1h-1zM211 335h1v1h-1zM213 335h1v1h-1zM215 335h1v1h-1zM217 335h1v1h-1zM218 335h1v1h-1zM219 335h1v1h-1zM164 336h1v1h-1zM170 336h1v1h-1zM172 336h1v1h-1zM192 336h1v1h-1zM193 336h1v1h-1zM194 336h1v1h-1zM196 336h1v1h-1zM198 336h1v1h-1zM199 336h1v1h-1zM200 336h1v1h-1zM202 336h1v1h-1zM204 336h1v1h-1zM206 336h1v1h-1zM208 336h1v1h-1zM209 336h1v1h-1zM211 336h1v1h-1zM212 336h1v1h-1zM213 336h1v1h-1zM215 336h1v1h-1zM216 336h1v1h-1zM218 336h1v1h-1zM170 337h1v1h-1zM176 337h1v1h-1zM181 337h1v1h-1zM183 337h1v1h-1zM190 337h1v1h-1zM191 337h1v1h-1zM192 337h1v1h-1zM194 337h1v1h-1zM195 337h1v1h-1zM196 337h1v1h-1zM198 337h1v1h-1zM201 337h1v1h-1zM203 337h1v1h-1zM204 337h1v1h-1zM205 337h1v1h-1zM206 337h1v1h-1zM208 337h1v1h-1zM209 337h1v1h-1zM210 337h1v1h-1zM211 337h1v1h-1zM212 337h1v1h-1zM214 337h1v1h-1zM215 337h1v1h-1zM217 337h1v1h-1zM218 337h1v1h-1zM168 338h1v1h-1zM169 338h1v1h-1zM173 338h1v1h-1zM177 338h1v1h-1zM184 338h1v1h-1zM190 338h1v1h-1zM191 338h1v1h-1zM192 338h1v1h-1zM193 338h1v1h-1zM194 338h1v1h-1zM195 338h1v1h-1zM197 338h1v1h-1zM198 338h1v1h-1zM199 338h1v1h-1zM200 338h1v1h-1zM201 338h1v1h-1zM203 338h1v1h-1zM204 338h1v1h-1zM206 338h1v1h-1zM207 338h1v1h-1zM208 338h1v1h-1zM209 338h1v1h-1zM210 338h1v1h-1zM212 338h1v1h-1zM213 338h1v1h-1zM216 338h1v1h-1zM218 338h1v1h-1zM219 338h1v1h-1zM224 338h1v1h-1zM174 339h1v1h-1zM182 339h1v1h-1zM189 339h1v1h-1zM193 339h1v1h-1zM194 339h1v1h-1zM195 339h1v1h-1zM196 339h1v1h-1zM197 339h1v1h-1zM198 339h1v1h-1zM199 339h1v1h-1zM200 339h1v1h-1zM202 339h1v1h-1zM203 339h1v1h-1zM205 339h1v1h-1zM206 339h1v1h-1zM207 339h1v1h-1zM208 339h1v1h-1zM213 339h1v1h-1zM165 340h1v1h-1zM173 340h1v1h-1zM184 340h1v1h-1zM190 340h1v1h-1zM192 340h1v1h-1zM193 340h1v1h-1zM194 340h1v1h-1zM195 340h1v1h-1zM197 340h1v1h-1zM198 340h1v1h-1zM199 340h1v1h-1zM200 340h1v1h-1zM201 340h1v1h-1zM203 340h1v1h-1zM204 340h1v1h-1zM205 340h1v1h-1zM206 340h1v1h-1zM207 340h1v1h-1zM209 340h1v1h-1zM210 340h1v1h-1zM211 340h1v1h-1zM212 340h1v1h-1zM213 340h1v1h-1zM215 340h1v1h-1zM219 340h1v1h-1zM221 340h1v1h-1zM168 341h1v1h-1zM169 341h1v1h-1zM179 341h1v1h-1zM190 341h1v1h-1zM192 341h1v1h-1zM193 341h1v1h-1zM194 341h1v1h-1zM195 341h1v1h-1zM196 341h1v1h-1zM197 341h1v1h-1zM199 341h1v1h-1zM200 341h1v1h-1zM201 341h1v1h-1zM202 341h1v1h-1zM203 341h1v1h-1zM204 341h1v1h-1zM205 341h1v1h-1zM206 341h1v1h-1zM208 341h1v1h-1zM209 341h1v1h-1zM213 341h1v1h-1zM215 341h1v1h-1zM216 341h1v1h-1zM217 341h1v1h-1zM218 341h1v1h-1zM228 341h1v1h-1zM167 342h1v1h-1zM168 342h1v1h-1zM171 342h1v1h-1zM177 342h1v1h-1zM181 342h1v1h-1zM183 342h1v1h-1zM185 342h1v1h-1zM187 342h1v1h-1zM189 342h1v1h-1zM190 342h1v1h-1zM192 342h1v1h-1zM193 342h1v1h-1zM194 342h1v1h-1zM195 342h1v1h-1zM196 342h1v1h-1zM197 342h1v1h-1zM199 342h1v1h-1zM200 342h1v1h-1zM203 342h1v1h-1zM204 342h1v1h-1zM206 342h1v1h-1zM207 342h1v1h-1zM208 342h1v1h-1zM212 342h1v1h-1zM213 342h1v1h-1zM214 342h1v1h-1zM217 342h1v1h-1zM218 342h1v1h-1zM219 342h1v1h-1zM170 343h1v1h-1zM179 343h1v1h-1zM180 343h1v1h-1zM181 343h1v1h-1zM187 343h1v1h-1zM189 343h1v1h-1zM190 343h1v1h-1zM191 343h1v1h-1zM193 343h1v1h-1zM194 343h1v1h-1zM195 343h1v1h-1zM196 343h1v1h-1zM198 343h1v1h-1zM199 343h1v1h-1zM200 343h1v1h-1zM201 343h1v1h-1zM202 343h1v1h-1zM203 343h1v1h-1zM204 343h1v1h-1zM206 343h1v1h-1zM207 343h1v1h-1zM208 343h1v1h-1zM211 343h1v1h-1zM213 343h1v1h-1zM214 343h1v1h-1zM171 344h1v1h-1zM172 344h1v1h-1zM176 344h1v1h-1zM180 344h1v1h-1zM185 344h1v1h-1zM189 344h1v1h-1zM190 344h1v1h-1zM191 344h1v1h-1zM192 344h1v1h-1zM193 344h1v1h-1zM194 344h1v1h-1zM195 344h1v1h-1zM196 344h1v1h-1zM197 344h1v1h-1zM198 344h1v1h-1zM200 344h1v1h-1zM201 344h1v1h-1zM203 344h1v1h-1zM204 344h1v1h-1zM205 344h1v1h-1zM206 344h1v1h-1zM207 344h1v1h-1zM208 344h1v1h-1zM209 344h1v1h-1zM210 344h1v1h-1zM212 344h1v1h-1zM215 344h1v1h-1zM218 344h1v1h-1zM219 344h1v1h-1zM164 345h1v1h-1zM166 345h1v1h-1zM167 345h1v1h-1zM169 345h1v1h-1zM171 345h1v1h-1zM177 345h1v1h-1zM179 345h1v1h-1zM180 345h1v1h-1zM182 345h1v1h-1zM183 345h1v1h-1zM186 345h1v1h-1zM188 345h1v1h-1zM189 345h1v1h-1zM191 345h1v1h-1zM192 345h1v1h-1zM193 345h1v1h-1zM194 345h1v1h-1zM195 345h1v1h-1zM196 345h1v1h-1zM197 345h1v1h-1zM198 345h1v1h-1zM200 345h1v1h-1zM201 345h1v1h-1zM203 345h1v1h-1zM204 345h1v1h-1zM205 345h1v1h-1zM207 345h1v1h-1zM209 345h1v1h-1zM210 345h1v1h-1zM212 345h1v1h-1zM213 345h1v1h-1zM214 345h1v1h-1zM215 345h1v1h-1zM217 345h1v1h-1zM218 345h1v1h-1zM219 345h1v1h-1zM165 346h1v1h-1zM166 346h1v1h-1zM169 346h1v1h-1zM170 346h1v1h-1zM172 346h1v1h-1zM174 346h1v1h-1zM175 346h1v1h-1zM178 346h1v1h-1zM182 346h1v1h-1zM183 346h1v1h-1zM186 346h1v1h-1zM187 346h1v1h-1zM191 346h1v1h-1zM192 346h1v1h-1zM193 346h1v1h-1zM194 346h1v1h-1zM196 346h1v1h-1zM199 346h1v1h-1zM200 346h1v1h-1zM201 346h1v1h-1zM202 346h1v1h-1zM203 346h1v1h-1zM204 346h1v1h-1zM205 346h1v1h-1zM206 346h1v1h-1zM207 346h1v1h-1zM208 346h1v1h-1zM209 346h1v1h-1zM210 346h1v1h-1zM211 346h1v1h-1zM212 346h1v1h-1zM213 346h1v1h-1zM214 346h1v1h-1zM215 346h1v1h-1zM216 346h1v1h-1zM217 346h1v1h-1zM218 346h1v1h-1zM219 346h1v1h-1zM220 346h1v1h-1zM224 346h1v1h-1zM167 347h1v1h-1zM180 347h1v1h-1zM182 347h1v1h-1zM183 347h1v1h-1zM184 347h1v1h-1zM187 347h1v1h-1zM190 347h1v1h-1zM191 347h1v1h-1zM192 347h1v1h-1zM193 347h1v1h-1zM194 347h1v1h-1zM195 347h1v1h-1zM196 347h1v1h-1zM197 347h1v1h-1zM198 347h1v1h-1zM199 347h1v1h-1zM200 347h1v1h-1zM201 347h1v1h-1zM202 347h1v1h-1zM203 347h1v1h-1zM204 347h1v1h-1zM205 347h1v1h-1zM206 347h1v1h-1zM207 347h1v1h-1zM208 347h1v1h-1zM209 347h1v1h-1zM210 347h1v1h-1zM211 347h1v1h-1zM212 347h1v1h-1zM213 347h1v1h-1zM214 347h1v1h-1zM215 347h1v1h-1zM216 347h1v1h-1zM217 347h1v1h-1zM218 347h1v1h-1zM219 347h1v1h-1zM220 347h1v1h-1zM222 347h1v1h-1zM166 348h1v1h-1zM179 348h1v1h-1zM180 348h1v1h-1zM184 348h1v1h-1zM186 348h1v1h-1zM187 348h1v1h-1zM189 348h1v1h-1zM191 348h1v1h-1zM193 348h1v1h-1zM194 348h1v1h-1zM195 348h1v1h-1zM196 348h1v1h-1zM197 348h1v1h-1zM198 348h1v1h-1zM199 348h1v1h-1zM200 348h1v1h-1zM201 348h1v1h-1zM202 348h1v1h-1zM203 348h1v1h-1zM204 348h1v1h-1zM205 348h1v1h-1zM206 348h1v1h-1zM207 348h1v1h-1zM208 348h1v1h-1zM209 348h1v1h-1zM210 348h1v1h-1zM211 348h1v1h-1zM212 348h1v1h-1zM213 348h1v1h-1zM214 348h1v1h-1zM215 348h1v1h-1zM216 348h1v1h-1zM217 348h1v1h-1zM218 348h1v1h-1zM219 348h1v1h-1zM220 348h1v1h-1zM176 349h1v1h-1zM177 349h1v1h-1zM184 349h1v1h-1zM187 349h1v1h-1zM188 349h1v1h-1zM189 349h1v1h-1zM190 349h1v1h-1zM191 349h1v1h-1zM192 349h1v1h-1zM194 349h1v1h-1zM195 349h1v1h-1zM196 349h1v1h-1zM197 349h1v1h-1zM198 349h1v1h-1zM199 349h1v1h-1zM200 349h1v1h-1zM201 349h1v1h-1zM202 349h1v1h-1zM203 349h1v1h-1zM204 349h1v1h-1zM205 349h1v1h-1zM206 349h1v1h-1zM207 349h1v1h-1zM208 349h1v1h-1zM209 349h1v1h-1zM210 349h1v1h-1zM211 349h1v1h-1zM212 349h1v1h-1zM213 349h1v1h-1zM214 349h1v1h-1zM215 349h1v1h-1zM216 349h1v1h-1zM217 349h1v1h-1zM218 349h1v1h-1zM173 350h1v1h-1zM176 350h1v1h-1zM182 350h1v1h-1zM186 350h1v1h-1zM189 350h1v1h-1zM190 350h1v1h-1zM191 350h1v1h-1zM192 350h1v1h-1zM193 350h1v1h-1zM194 350h1v1h-1zM195 350h1v1h-1zM196 350h1v1h-1zM197 350h1v1h-1zM198 350h1v1h-1zM199 350h1v1h-1zM200 350h1v1h-1zM201 350h1v1h-1zM202 350h1v1h-1zM203 350h1v1h-1zM204 350h1v1h-1zM205 350h1v1h-1zM206 350h1v1h-1zM207 350h1v1h-1zM208 350h1v1h-1zM209 350h1v1h-1zM210 350h1v1h-1zM211 350h1v1h-1zM212 350h1v1h-1zM213 350h1v1h-1zM214 350h1v1h-1zM215 350h1v1h-1zM216 350h1v1h-1zM217 350h1v1h-1zM218 350h1v1h-1zM219 350h1v1h-1zM220 350h1v1h-1zM168 351h1v1h-1zM169 351h1v1h-1zM181 351h1v1h-1zM183 351h1v1h-1zM185 351h1v1h-1zM186 351h1v1h-1zM187 351h1v1h-1zM188 351h1v1h-1zM189 351h1v1h-1zM191 351h1v1h-1zM192 351h1v1h-1zM194 351h1v1h-1zM197 351h1v1h-1zM198 351h1v1h-1zM199 351h1v1h-1zM200 351h1v1h-1zM201 351h1v1h-1zM202 351h1v1h-1zM203 351h1v1h-1zM204 351h1v1h-1zM205 351h1v1h-1zM206 351h1v1h-1zM207 351h1v1h-1zM208 351h1v1h-1zM209 351h1v1h-1zM210 351h1v1h-1zM211 351h1v1h-1zM212 351h1v1h-1zM213 351h1v1h-1zM214 351h1v1h-1zM215 351h1v1h-1zM216 351h1v1h-1zM217 351h1v1h-1zM218 351h1v1h-1zM220 351h1v1h-1zM166 352h1v1h-1zM168 352h1v1h-1zM190 352h1v1h-1zM193 352h1v1h-1zM194 352h1v1h-1zM195 352h1v1h-1zM196 352h1v1h-1zM197 352h1v1h-1zM199 352h1v1h-1zM200 352h1v1h-1zM201 352h1v1h-1zM202 352h1v1h-1zM203 352h1v1h-1zM204 352h1v1h-1zM205 352h1v1h-1zM206 352h1v1h-1zM207 352h1v1h-1zM208 352h1v1h-1zM209 352h1v1h-1zM210 352h1v1h-1zM211 352h1v1h-1zM212 352h1v1h-1zM213 352h1v1h-1zM214 352h1v1h-1zM215 352h1v1h-1zM216 352h1v1h-1zM217 352h1v1h-1zM218 352h1v1h-1zM219 352h1v1h-1zM220 352h1v1h-1zM221 352h1v1h-1zM168 353h1v1h-1zM170 353h1v1h-1zM171 353h1v1h-1zM178 353h1v1h-1zM180 353h1v1h-1zM184 353h1v1h-1zM187 353h1v1h-1zM190 353h1v1h-1zM191 353h1v1h-1zM192 353h1v1h-1zM193 353h1v1h-1zM194 353h1v1h-1zM195 353h1v1h-1zM196 353h1v1h-1zM197 353h1v1h-1zM198 353h1v1h-1zM199 353h1v1h-1zM200 353h1v1h-1zM201 353h1v1h-1zM202 353h1v1h-1zM203 353h1v1h-1zM204 353h1v1h-1zM205 353h1v1h-1zM206 353h1v1h-1zM207 353h1v1h-1zM208 353h1v1h-1zM209 353h1v1h-1zM210 353h1v1h-1zM211 353h1v1h-1zM212 353h1v1h-1zM213 353h1v1h-1zM214 353h1v1h-1zM215 353h1v1h-1zM216 353h1v1h-1zM217 353h1v1h-1zM218 353h1v1h-1zM219 353h1v1h-1zM220 353h1v1h-1zM221 353h1v1h-1zM176 354h1v1h-1zM181 354h1v1h-1zM183 354h1v1h-1zM187 354h1v1h-1zM188 354h1v1h-1zM190 354h1v1h-1zM192 354h1v1h-1zM193 354h1v1h-1zM194 354h1v1h-1zM196 354h1v1h-1zM197 354h1v1h-1zM199 354h1v1h-1zM200 354h1v1h-1zM201 354h1v1h-1zM202 354h1v1h-1zM203 354h1v1h-1zM204 354h1v1h-1zM205 354h1v1h-1zM206 354h1v1h-1zM207 354h1v1h-1zM208 354h1v1h-1zM209 354h1v1h-1zM210 354h1v1h-1zM211 354h1v1h-1zM212 354h1v1h-1zM213 354h1v1h-1zM214 354h1v1h-1zM215 354h1v1h-1zM216 354h1v1h-1zM217 354h1v1h-1zM218 354h1v1h-1zM219 354h1v1h-1zM220 354h1v1h-1zM223 354h1v1h-1zM171 355h1v1h-1zM173 355h1v1h-1zM180 355h1v1h-1zM182 355h1v1h-1zM188 355h1v1h-1zM190 355h1v1h-1zM193 355h1v1h-1zM194 355h1v1h-1zM195 355h1v1h-1zM196 355h1v1h-1zM197 355h1v1h-1zM200 355h1v1h-1zM201 355h1v1h-1zM202 355h1v1h-1zM203 355h1v1h-1zM204 355h1v1h-1zM205 355h1v1h-1zM206 355h1v1h-1zM207 355h1v1h-1zM208 355h1v1h-1zM209 355h1v1h-1zM210 355h1v1h-1zM211 355h1v1h-1zM212 355h1v1h-1zM214 355h1v1h-1zM215 355h1v1h-1zM216 355h1v1h-1zM217 355h1v1h-1zM218 355h1v1h-1zM219 355h1v1h-1zM220 355h1v1h-1zM221 355h1v1h-1zM222 355h1v1h-1zM189 356h1v1h-1zM191 356h1v1h-1zM192 356h1v1h-1zM193 356h1v1h-1zM194 356h1v1h-1zM195 356h1v1h-1zM196 356h1v1h-1zM197 356h1v1h-1zM198 356h1v1h-1zM199 356h1v1h-1zM200 356h1v1h-1zM201 356h1v1h-1zM202 356h1v1h-1zM203 356h1v1h-1zM204 356h1v1h-1zM205 356h1v1h-1zM206 356h1v1h-1zM207 356h1v1h-1zM208 356h1v1h-1zM209 356h1v1h-1zM210 356h1v1h-1zM211 356h1v1h-1zM212 356h1v1h-1zM213 356h1v1h-1zM214 356h1v1h-1zM215 356h1v1h-1zM216 356h1v1h-1zM218 356h1v1h-1zM219 356h1v1h-1zM220 356h1v1h-1zM221 356h1v1h-1z" fill="#000"/>
<path d="M196 319h1v1h-1zM215 319h1v1h-1zM211 320h1v1h-1zM193 321h1v1h-1zM199 321h1v1h-1zM200 321h1v1h-1zM212 321h1v1h-1zM191 322h1v1h-1zM220 322h1v1h-1zM192 323h1v1h-1zM221 325h1v1h-1zM170 327h1v1h-1zM171 327h1v1h-1zM190 327h1v1h-1zM191 328h1v1h-1zM223 328h1v1h-1zM167 330h1v1h-1zM221 330h1v1h-1zM222 330h1v1h-1zM182 332h1v1h-1zM174 333h1v1h-1zM182 333h1v1h-1zM190 333h1v1h-1zM185 334h1v1h-1zM173 335h1v1h-1zM223 335h1v1h-1zM181 336h1v1h-1zM175 337h1v1h-1zM176 338h1v1h-1zM223 338h1v1h-1zM185 339h1v1h-1zM174 340h1v1h-1zM177 340h1v1h-1zM179 340h1v1h-1zM224 341h1v1h-1zM166 342h1v1h-1zM178 342h1v1h-1zM184 342h1v1h-1zM174 343h1v1h-1zM183 343h1v1h-1zM164 344h1v1h-1zM179 344h1v1h-1zM183 344h1v1h-1zM222 344h1v1h-1zM223 344h1v1h-1zM185 345h1v1h-1zM187 345h1v1h-1zM220 345h1v1h-1zM171 346h1v1h-1zM180 346h1v1h-1zM164 347h1v1h-1zM172 347h1v1h-1zM175 347h1v1h-1zM188 347h1v1h-1zM173 349h1v1h-1zM174 350h1v1h-1zM175 350h1v1h-1zM179 350h1v1h-1zM183 350h1v1h-1zM164 351h1v1h-1zM166 351h1v1h-1zM172 351h1v1h-1zM173 351h1v1h-1zM177 351h1v1h-1zM171 352h1v1h-1zM172 352h1v1h-1zM173 352h1v1h-1zM174 352h1v1h-1zM178 352h1v1h-1zM186 352h1v1h-1zM164 353h1v1h-1zM222 354h1v1h-1zM176 355h1v1h-1zM177 355h1v1h-1zM189 355h1v1h-1z" fill="#222"/>
<path d="M199 319h1v1h-1zM194 320h1v1h-1zM195 320h1v1h-1zM210 320h1v1h-1zM214 320h1v1h-1zM194 321h1v1h-1zM198 321h1v1h-1zM191 323h1v1h-1zM220 323h1v1h-1zM220 324h1v1h-1zM221 326h1v1h-1zM185 327h1v1h-1zM222 327h1v1h-1zM179 331h1v1h-1zM183 332h1v1h-1zM185 332h1v1h-1zM174 334h1v1h-1zM188 334h1v1h-1zM170 335h1v1h-1zM189 336h1v1h-1zM190 336h1v1h-1zM220 336h1v1h-1zM223 336h1v1h-1zM165 337h1v1h-1zM174 337h1v1h-1zM182 337h1v1h-1zM222 337h1v1h-1zM178 338h1v1h-1zM179 338h1v1h-1zM186 338h1v1h-1zM168 340h1v1h-1zM180 340h1v1h-1zM181 340h1v1h-1zM187 340h1v1h-1zM188 340h1v1h-1zM170 341h1v1h-1zM177 341h1v1h-1zM221 341h1v1h-1zM164 342h1v1h-1zM178 343h1v1h-1zM223 343h1v1h-1zM184 344h1v1h-1zM176 346h1v1h-1zM184 346h1v1h-1zM188 346h1v1h-1zM166 347h1v1h-1zM179 347h1v1h-1zM165 348h1v1h-1zM175 348h1v1h-1zM182 348h1v1h-1zM175 349h1v1h-1zM178 349h1v1h-1zM181 349h1v1h-1zM186 349h1v1h-1zM182 351h1v1h-1zM227 351h1v1h-1zM176 352h1v1h-1zM182 352h1v1h-1zM188 353h1v1h-1zM173 354h1v1h-1z" fill="#555"/>
<path d="" fill="#888"/>
<path d="M200.0,357 V345.7 H221.2 V357" fill="none" stroke="#d8d8d8" stroke-width="0.9"/>
<rect x="163.5" y="299.3" width="70.0" height="57.69999999999999" fill="none" stroke="#2a2a2a" stroke-width="1.1"/>
<line x1="159.50" y1="349.79" x2="160.90" y2="349.79" stroke="#888" stroke-width="0.6"/>
<line x1="159.50" y1="342.57" x2="160.90" y2="342.57" stroke="#888" stroke-width="0.6"/>
<line x1="159.50" y1="335.36" x2="160.90" y2="335.36" stroke="#888" stroke-width="0.6"/>
<line x1="159.50" y1="328.15" x2="160.90" y2="328.15" stroke="#888" stroke-width="0.6"/>
<line x1="159.50" y1="320.94" x2="160.90" y2="320.94" stroke="#888" stroke-width="0.6"/>
<line x1="159.50" y1="313.73" x2="160.90" y2="313.73" stroke="#888" stroke-width="0.6"/>
<line x1="159.50" y1="306.51" x2="160.90" y2="306.51" stroke="#888" stroke-width="0.6"/>
<text x="41.85" y="297.10" font-size="10.40" font-weight="bold" textLength="16.25" lengthAdjust="spacingAndGlyphs" xml:space="preserve" fill="#000">+/+</text>
<text x="113.74" y="296.70" font-size="10.40" font-weight="bold" textLength="18.85" lengthAdjust="spacingAndGlyphs" xml:space="preserve" fill="#000">+/G</text>
<text x="189.06" y="296.50" font-size="10.40" font-weight="bold" textLength="20.24" lengthAdjust="spacingAndGlyphs" xml:space="preserve" fill="#000">G/G</text>
<text transform="translate(9.40,347.11) rotate(-90)" font-size="9.80" font-weight="bold" textLength="38.26" lengthAdjust="spacingAndGlyphs" xml:space="preserve" fill="#000">TER119</text>
<text x="18.70" y="368.10" font-size="10.50" font-weight="bold" textLength="25.88" lengthAdjust="spacingAndGlyphs" xml:space="preserve" fill="#000">CD71</text>
<line x1="49.00" y1="365.60" x2="224.50" y2="365.60" stroke="#000" stroke-width="1.1"/>
<polygon points="228.80,365.60 223.80,367.60 223.80,363.60" fill="#000"/>
<rect x="16.9" y="371.9" width="66.80000000000001" height="38.400000000000034" fill="none" stroke="#333" stroke-width="1.1"/>
<line x1="16.90" y1="371.90" x2="16.90" y2="410.30" stroke="#000" stroke-width="1.8"/>
<line x1="16.90" y1="410.30" x2="83.70" y2="410.30" stroke="#000" stroke-width="1.5"/>
<line x1="19.30" y1="372.50" x2="19.30" y2="409.60" stroke="#999" stroke-width="0.6"/>
<polyline points="24.0,409.6 24.7,408.4 25.4,409.6 26.1,409.1 26.8,408.1 27.5,406.4 28.2,403.8 28.9,401.9 29.6,398.1 30.3,396.5 31.0,390.9 31.7,386.0 32.4,381.5 33.1,377.9 33.8,374.5 34.5,373.3 35.2,373.9 35.9,374.8 36.6,378.0 37.3,380.1 38.0,383.8 38.7,388.3 39.4,391.7 40.1,394.4 40.8,397.6 41.5,400.5 42.2,402.6 42.9,403.1 43.6,404.5 44.3,406.1 45.0,406.2 45.7,407.4 46.4,408.2 47.1,408.2 47.8,408.1 48.5,408.5 49.2,407.1 49.9,408.9 50.6,408.1 51.3,407.8 52.0,408.8 52.7,409.1 53.4,408.5 54.1,408.2 54.8,408.5 55.5,408.4 56.2,409.0 56.9,408.6 57.6,408.3 58.3,408.8 59.0,408.3 59.7,408.1 60.4,408.8 61.1,408.9 61.8,408.6 62.5,408.4 63.2,408.9 63.9,407.8 64.6,409.3 65.3,409.3 66.0,408.4" fill="none" stroke="#333" stroke-width="0.9" stroke-linejoin="round"/>
<polygon points="66.6,409.6 66.6,409.6 67.6,407.5 68.8,404.0 70.0,396.0 71.2,384.0 72.1,373.5 72.5,372.4 73.2,376.0 74.3,388.0 75.5,399.0 76.8,405.5 78.0,408.6 79.0,409.6 79.0,409.6" fill="#000" stroke="#000" stroke-width="0.5"/>
<rect x="90.3" y="372.2" width="66.89999999999999" height="38.400000000000034" fill="none" stroke="#333" stroke-width="1.1"/>
<line x1="90.30" y1="372.20" x2="90.30" y2="410.60" stroke="#000" stroke-width="1.8"/>
<line x1="90.30" y1="410.60" x2="157.20" y2="410.60" stroke="#000" stroke-width="1.5"/>
<line x1="92.60" y1="372.80" x2="92.60" y2="409.90" stroke="#aaa" stroke-width="0.6"/>
<polyline points="95.0,409.9 95.7,408.9 96.4,409.9 97.1,406.9 97.8,406.3 98.5,405.8 99.2,403.3 99.9,397.5 100.6,395.6 101.3,392.8 102.0,388.3 102.7,386.0 103.4,379.4 104.1,377.3 104.8,373.2 105.5,374.3 106.2,373.0 106.9,373.0 107.6,374.3 108.3,382.8 109.0,388.0 109.7,392.8 110.4,397.0 111.1,397.8 111.8,398.5 112.5,399.3 113.2,400.0 113.9,402.6 114.6,400.9 115.3,402.6 116.0,403.7 116.7,404.0 117.4,404.2 118.1,402.5 118.8,402.7 119.5,405.0 120.2,406.7 120.9,406.6 121.6,406.5 122.3,406.0 123.0,406.0 123.7,405.0 124.4,405.6 125.1,404.0 125.8,404.7 126.5,404.8 127.2,405.9 127.9,406.1 128.6,407.1 129.3,404.7 130.0,403.3 130.7,399.6 131.4,400.6 132.1,399.9 132.8,400.2 133.5,396.9 134.2,399.7 134.9,400.1 135.6,398.5 136.3,398.4 137.0,396.9 137.7,396.6 138.4,397.3 139.1,398.7 139.8,396.5 140.5,396.5 141.2,395.1" fill="none" stroke="#333" stroke-width="0.9" stroke-linejoin="round"/>
<polygon points="141.6,409.9 141.6,396.0 142.6,391.0 143.6,384.0 144.6,376.0 145.4,372.8 146.2,376.0 147.0,385.0 147.8,395.0 148.5,403.0 149.0,409.9 149.0,409.9" fill="#000" stroke="#000" stroke-width="0.5"/>
<polyline points="146.2,376.0 147.2,386.0 148.2,397.0 149.2,404.0 150.4,408.2 151.8,409.6" fill="none" stroke="#222" stroke-width="0.9" stroke-linejoin="round"/>
<rect x="165.8" y="372.5" width="66.5" height="38.5" fill="none" stroke="#333" stroke-width="1.1"/>
<line x1="165.80" y1="372.50" x2="165.80" y2="411.00" stroke="#000" stroke-width="1.8"/>
<line x1="165.80" y1="411.00" x2="232.30" y2="411.00" stroke="#000" stroke-width="1.5"/>
<line x1="168.20" y1="373.10" x2="168.20" y2="410.30" stroke="#aaa" stroke-width="0.6"/>
<polyline points="174.0,410.3 174.7,410.3 175.4,410.3 176.1,409.0 176.8,409.7 177.5,408.4 178.2,408.3 178.9,404.9 179.6,399.6 180.3,394.8 181.0,390.0 181.7,385.9 182.4,385.0 183.1,389.0 183.8,388.2 184.5,384.4 185.2,385.5 185.9,384.4 186.6,385.0 187.3,390.7 188.0,393.9 188.7,395.2 189.4,397.4 190.1,399.0 190.8,400.7 191.5,399.8 192.2,401.3 192.9,402.8 193.6,403.2 194.3,404.7 195.0,405.3 195.7,406.4 196.4,408.2 197.1,406.8 197.8,406.7 198.5,407.2 199.2,407.5 199.9,408.9 200.6,405.8 201.3,407.9 202.0,406.0 202.7,406.1 203.4,406.5 204.1,406.6 204.8,406.1 205.5,404.4 206.2,404.8 206.9,402.4 207.6,401.9 208.3,402.1 209.0,399.9 209.7,401.4 210.4,399.4 211.1,399.5 211.8,396.1 212.5,393.7 213.2,392.3 213.9,391.4 214.6,388.5 215.3,387.0 216.0,383.5 216.7,382.2 217.4,379.1 218.1,379.7 218.8,377.4 219.5,374.7" fill="none" stroke="#333" stroke-width="0.9" stroke-linejoin="round"/>
<polygon points="219.8,410.3 219.8,386.0 220.4,378.0 221.1,373.1 221.9,377.0 222.5,384.0 223.0,392.0 223.4,400.0 223.6,410.3 223.6,410.3" fill="#000" stroke="#000" stroke-width="0.5"/>
<polyline points="221.1,373.1 221.9,375.0 222.6,381.0 223.4,389.0 224.3,397.0 225.3,403.5 226.4,407.8 227.6,409.8 229.0,410.3" fill="none" stroke="#222" stroke-width="0.9" stroke-linejoin="round"/>
<polyline points="219.8,374.5 221.1,373.1" fill="none" stroke="#333" stroke-width="0.9" stroke-linejoin="round"/>
<text x="21.59" y="422.20" font-size="10.20" font-weight="bold" textLength="59.66" lengthAdjust="spacingAndGlyphs" xml:space="preserve" fill="#000">CFSE (CD71</text>
<text x="82.14" y="419.30" font-size="9.60" font-weight="bold" textLength="6.66" lengthAdjust="spacingAndGlyphs" xml:space="preserve" fill="#000">+</text>
<text x="92.70" y="422.20" font-size="10.20" font-weight="bold" textLength="36.13" lengthAdjust="spacingAndGlyphs" xml:space="preserve" fill="#000">TER119</text>
<rect x="130.5" y="415.8" width="3.4" height="1.4" fill="#000"/>
<text x="135.90" y="422.20" font-size="10.20" font-weight="bold" textLength="3.33" lengthAdjust="spacingAndGlyphs" xml:space="preserve" fill="#000">)</text>
<line x1="147.00" y1="419.80" x2="224.50" y2="419.80" stroke="#000" stroke-width="1.1"/>
<polygon points="228.80,419.80 223.80,421.80 223.80,417.80" fill="#000"/>
<text transform="translate(298.90,145.21) rotate(-90)" font-size="10.30" textLength="101.14" lengthAdjust="spacingAndGlyphs" xml:space="preserve" fill="#000">Total no. of cells (x 10</text>
<text transform="translate(295.40,44.32) rotate(-90)" font-size="7.00" textLength="4.72" lengthAdjust="spacingAndGlyphs" xml:space="preserve" fill="#000">6</text>
<text transform="translate(298.90,39.13) rotate(-90)" font-size="10.30" textLength="4.36" lengthAdjust="spacingAndGlyphs" xml:space="preserve" fill="#000">)</text>
<text transform="translate(298.90,326.41) rotate(-90)" font-size="10.30" textLength="101.44" lengthAdjust="spacingAndGlyphs" xml:space="preserve" fill="#000">Total no. of cells (x 10</text>
<text transform="translate(295.40,225.13) rotate(-90)" font-size="7.00" textLength="4.62" lengthAdjust="spacingAndGlyphs" xml:space="preserve" fill="#000">5</text>
<text transform="translate(298.90,220.03) rotate(-90)" font-size="10.30" textLength="4.36" lengthAdjust="spacingAndGlyphs" xml:space="preserve" fill="#000">)</text>
</svg></body></html>
